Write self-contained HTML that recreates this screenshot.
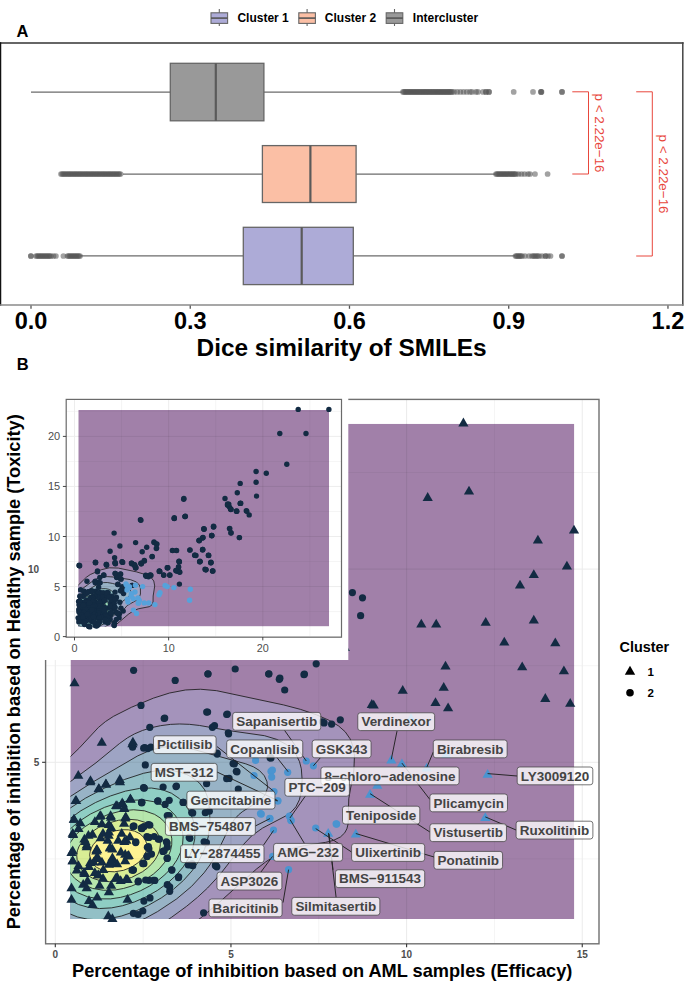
<!DOCTYPE html>
<html><head><meta charset="utf-8"><title>Figure</title>
<style>html,body{margin:0;padding:0;background:#fff;}svg{display:block;}</style>
</head><body>
<svg width="685" height="984" viewBox="0 0 685 984">
<rect width="685" height="984" fill="#fff"/>
<defs>
<clipPath id="mainclip"><rect x="70.5" y="423.8" width="503.8" height="495.2"/></clipPath>
<clipPath id="mainpanelclip"><rect x="45.6" y="399.3" width="553.8" height="544.5"/></clipPath>
<clipPath id="insetpanelclip"><rect x="66.2" y="399.3" width="275.3" height="237.8"/></clipPath>
<clipPath id="insetclip"><rect x="78.3" y="410" width="250.8" height="216.4"/></clipPath>
</defs>
<line x1="219.3" y1="9" x2="219.3" y2="26" stroke="#666" stroke-width="1.1"/>
<rect x="211" y="12.8" width="16.6" height="10.6" fill="#ADABD7" stroke="#666" stroke-width="1.1"/>
<line x1="211" y1="18.1" x2="227.6" y2="18.1" stroke="#555" stroke-width="1.6"/>
<text x="237.4" y="22.3" style="font-family:'Liberation Sans',sans-serif;font-weight:bold;font-size:12px" fill="#000">Cluster 1</text>
<line x1="307.1" y1="9" x2="307.1" y2="26" stroke="#666" stroke-width="1.1"/>
<rect x="298.8" y="12.8" width="16.6" height="10.6" fill="#FBBFA5" stroke="#666" stroke-width="1.1"/>
<line x1="298.8" y1="18.1" x2="315.4" y2="18.1" stroke="#555" stroke-width="1.6"/>
<text x="324.8" y="22.3" style="font-family:'Liberation Sans',sans-serif;font-weight:bold;font-size:12px" fill="#000">Cluster 2</text>
<line x1="394.5" y1="9" x2="394.5" y2="26" stroke="#666" stroke-width="1.1"/>
<rect x="386.2" y="12.8" width="16.6" height="10.6" fill="#999999" stroke="#666" stroke-width="1.1"/>
<line x1="386.2" y1="18.1" x2="402.8" y2="18.1" stroke="#555" stroke-width="1.6"/>
<text x="412.8" y="22.3" style="font-family:'Liberation Sans',sans-serif;font-weight:bold;font-size:12px" fill="#000">Intercluster</text>
<text x="16.4" y="36.8" style="font-family:'Liberation Sans',sans-serif;font-weight:bold;font-size:16.5px" fill="#000">A</text>
<line x1="0" y1="43.0" x2="683.6" y2="43.0" stroke="#333" stroke-width="1.5"/>
<line x1="0.6" y1="42.3" x2="0.6" y2="305.8" stroke="#111" stroke-width="1.3"/>
<line x1="682.8" y1="42.3" x2="682.8" y2="305.8" stroke="#444" stroke-width="1.5"/>
<line x1="0" y1="305.0" x2="683.5" y2="305.0" stroke="#8a8a8a" stroke-width="1.7"/>
<line x1="31" y1="92.05" x2="170.3" y2="92.05" stroke="#6b6b6b" stroke-width="1.3"/>
<line x1="263.9" y1="92.05" x2="401.8" y2="92.05" stroke="#6b6b6b" stroke-width="1.3"/>
<rect x="170.3" y="63.3" width="93.6" height="57.5" fill="#999999" stroke="#666" stroke-width="1.3"/>
<line x1="215.8" y1="63.3" x2="215.8" y2="120.8" stroke="#5a5a5a" stroke-width="2.2"/>
<line x1="123" y1="174.05" x2="262.4" y2="174.05" stroke="#6b6b6b" stroke-width="1.3"/>
<line x1="356.1" y1="174.05" x2="495.4" y2="174.05" stroke="#6b6b6b" stroke-width="1.3"/>
<rect x="262.4" y="145.6" width="93.7" height="56.9" fill="#FBBFA5" stroke="#666" stroke-width="1.3"/>
<line x1="310.4" y1="145.6" x2="310.4" y2="202.5" stroke="#5a5a5a" stroke-width="2.2"/>
<line x1="80.4" y1="255.95" x2="243.3" y2="255.95" stroke="#6b6b6b" stroke-width="1.3"/>
<line x1="353.3" y1="255.95" x2="515" y2="255.95" stroke="#6b6b6b" stroke-width="1.3"/>
<rect x="243.3" y="227.3" width="110" height="57.3" fill="#ADABD7" stroke="#666" stroke-width="1.3"/>
<line x1="301.7" y1="227.3" x2="301.7" y2="284.6" stroke="#5a5a5a" stroke-width="2.2"/>
<circle cx="403" cy="91.9" r="2.85" fill="#555" fill-opacity="0.55"/>
<circle cx="404.04" cy="91.9" r="2.85" fill="#555" fill-opacity="0.55"/>
<circle cx="405.09" cy="91.9" r="2.85" fill="#555" fill-opacity="0.55"/>
<circle cx="406.13" cy="91.9" r="2.85" fill="#555" fill-opacity="0.55"/>
<circle cx="407.17" cy="91.9" r="2.85" fill="#555" fill-opacity="0.55"/>
<circle cx="408.21" cy="91.9" r="2.85" fill="#555" fill-opacity="0.55"/>
<circle cx="409.26" cy="91.9" r="2.85" fill="#555" fill-opacity="0.55"/>
<circle cx="410.3" cy="91.9" r="2.85" fill="#555" fill-opacity="0.55"/>
<circle cx="411.34" cy="91.9" r="2.85" fill="#555" fill-opacity="0.55"/>
<circle cx="412.38" cy="91.9" r="2.85" fill="#555" fill-opacity="0.55"/>
<circle cx="413.43" cy="91.9" r="2.85" fill="#555" fill-opacity="0.55"/>
<circle cx="414.47" cy="91.9" r="2.85" fill="#555" fill-opacity="0.55"/>
<circle cx="415.51" cy="91.9" r="2.85" fill="#555" fill-opacity="0.55"/>
<circle cx="416.55" cy="91.9" r="2.85" fill="#555" fill-opacity="0.55"/>
<circle cx="417.6" cy="91.9" r="2.85" fill="#555" fill-opacity="0.55"/>
<circle cx="418.64" cy="91.9" r="2.85" fill="#555" fill-opacity="0.55"/>
<circle cx="419.68" cy="91.9" r="2.85" fill="#555" fill-opacity="0.55"/>
<circle cx="420.72" cy="91.9" r="2.85" fill="#555" fill-opacity="0.55"/>
<circle cx="421.77" cy="91.9" r="2.85" fill="#555" fill-opacity="0.55"/>
<circle cx="422.81" cy="91.9" r="2.85" fill="#555" fill-opacity="0.55"/>
<circle cx="423.85" cy="91.9" r="2.85" fill="#555" fill-opacity="0.55"/>
<circle cx="424.89" cy="91.9" r="2.85" fill="#555" fill-opacity="0.55"/>
<circle cx="425.94" cy="91.9" r="2.85" fill="#555" fill-opacity="0.55"/>
<circle cx="426.98" cy="91.9" r="2.85" fill="#555" fill-opacity="0.55"/>
<circle cx="428.02" cy="91.9" r="2.85" fill="#555" fill-opacity="0.55"/>
<circle cx="429.06" cy="91.9" r="2.85" fill="#555" fill-opacity="0.55"/>
<circle cx="430.11" cy="91.9" r="2.85" fill="#555" fill-opacity="0.55"/>
<circle cx="431.15" cy="91.9" r="2.85" fill="#555" fill-opacity="0.55"/>
<circle cx="432.19" cy="91.9" r="2.85" fill="#555" fill-opacity="0.55"/>
<circle cx="433.23" cy="91.9" r="2.85" fill="#555" fill-opacity="0.55"/>
<circle cx="434.28" cy="91.9" r="2.85" fill="#555" fill-opacity="0.55"/>
<circle cx="435.32" cy="91.9" r="2.85" fill="#555" fill-opacity="0.55"/>
<circle cx="436.36" cy="91.9" r="2.85" fill="#555" fill-opacity="0.55"/>
<circle cx="437.4" cy="91.9" r="2.85" fill="#555" fill-opacity="0.55"/>
<circle cx="438.45" cy="91.9" r="2.85" fill="#555" fill-opacity="0.55"/>
<circle cx="439.49" cy="91.9" r="2.85" fill="#555" fill-opacity="0.55"/>
<circle cx="440.53" cy="91.9" r="2.85" fill="#555" fill-opacity="0.55"/>
<circle cx="441.57" cy="91.9" r="2.85" fill="#555" fill-opacity="0.55"/>
<circle cx="442.62" cy="91.9" r="2.85" fill="#555" fill-opacity="0.55"/>
<circle cx="443.66" cy="91.9" r="2.85" fill="#555" fill-opacity="0.55"/>
<circle cx="444.7" cy="91.9" r="2.85" fill="#555" fill-opacity="0.55"/>
<circle cx="445.74" cy="91.9" r="2.85" fill="#555" fill-opacity="0.55"/>
<circle cx="446.79" cy="91.9" r="2.85" fill="#555" fill-opacity="0.55"/>
<circle cx="447.83" cy="91.9" r="2.85" fill="#555" fill-opacity="0.55"/>
<circle cx="448.87" cy="91.9" r="2.85" fill="#555" fill-opacity="0.55"/>
<circle cx="449.91" cy="91.9" r="2.85" fill="#555" fill-opacity="0.55"/>
<circle cx="450.96" cy="91.9" r="2.85" fill="#555" fill-opacity="0.55"/>
<circle cx="452" cy="91.9" r="2.85" fill="#555" fill-opacity="0.55"/>
<circle cx="454" cy="91.9" r="2.85" fill="#555" fill-opacity="0.55"/>
<circle cx="457.2" cy="91.9" r="2.85" fill="#555" fill-opacity="0.55"/>
<circle cx="460.4" cy="91.9" r="2.85" fill="#555" fill-opacity="0.55"/>
<circle cx="463.6" cy="91.9" r="2.85" fill="#555" fill-opacity="0.55"/>
<circle cx="466.8" cy="91.9" r="2.85" fill="#555" fill-opacity="0.55"/>
<circle cx="470" cy="91.9" r="2.85" fill="#555" fill-opacity="0.55"/>
<circle cx="472" cy="91.9" r="2.85" fill="#555" fill-opacity="0.55"/>
<circle cx="476" cy="91.9" r="2.85" fill="#555" fill-opacity="0.55"/>
<circle cx="478" cy="91.9" r="2.85" fill="#555" fill-opacity="0.55"/>
<circle cx="483" cy="91.9" r="2.85" fill="#555" fill-opacity="0.55"/>
<circle cx="486" cy="91.9" r="2.85" fill="#555" fill-opacity="0.55"/>
<circle cx="486" cy="91.9" r="2.85" fill="#555" fill-opacity="0.55"/>
<circle cx="489" cy="91.9" r="2.85" fill="#555" fill-opacity="0.55"/>
<circle cx="489" cy="91.9" r="2.85" fill="#555" fill-opacity="0.55"/>
<circle cx="513.7" cy="91.9" r="2.85" fill="#555" fill-opacity="0.55"/>
<circle cx="533" cy="91.9" r="2.85" fill="#555" fill-opacity="0.55"/>
<circle cx="541" cy="91.9" r="2.85" fill="#555" fill-opacity="0.55"/>
<circle cx="541" cy="91.9" r="2.85" fill="#555" fill-opacity="0.55"/>
<circle cx="541.5" cy="91.9" r="2.85" fill="#555" fill-opacity="0.55"/>
<circle cx="562" cy="91.9" r="2.85" fill="#555" fill-opacity="0.55"/>
<circle cx="562" cy="91.9" r="2.85" fill="#555" fill-opacity="0.55"/>
<circle cx="61" cy="174" r="2.85" fill="#555" fill-opacity="0.55"/>
<circle cx="62.21" cy="174" r="2.85" fill="#555" fill-opacity="0.55"/>
<circle cx="63.43" cy="174" r="2.85" fill="#555" fill-opacity="0.55"/>
<circle cx="64.64" cy="174" r="2.85" fill="#555" fill-opacity="0.55"/>
<circle cx="65.86" cy="174" r="2.85" fill="#555" fill-opacity="0.55"/>
<circle cx="67.07" cy="174" r="2.85" fill="#555" fill-opacity="0.55"/>
<circle cx="68.29" cy="174" r="2.85" fill="#555" fill-opacity="0.55"/>
<circle cx="69.5" cy="174" r="2.85" fill="#555" fill-opacity="0.55"/>
<circle cx="70.71" cy="174" r="2.85" fill="#555" fill-opacity="0.55"/>
<circle cx="71.93" cy="174" r="2.85" fill="#555" fill-opacity="0.55"/>
<circle cx="73.14" cy="174" r="2.85" fill="#555" fill-opacity="0.55"/>
<circle cx="74.36" cy="174" r="2.85" fill="#555" fill-opacity="0.55"/>
<circle cx="75.57" cy="174" r="2.85" fill="#555" fill-opacity="0.55"/>
<circle cx="76.79" cy="174" r="2.85" fill="#555" fill-opacity="0.55"/>
<circle cx="78" cy="174" r="2.85" fill="#555" fill-opacity="0.55"/>
<circle cx="79.21" cy="174" r="2.85" fill="#555" fill-opacity="0.55"/>
<circle cx="80.43" cy="174" r="2.85" fill="#555" fill-opacity="0.55"/>
<circle cx="81.64" cy="174" r="2.85" fill="#555" fill-opacity="0.55"/>
<circle cx="82.86" cy="174" r="2.85" fill="#555" fill-opacity="0.55"/>
<circle cx="84.07" cy="174" r="2.85" fill="#555" fill-opacity="0.55"/>
<circle cx="85.29" cy="174" r="2.85" fill="#555" fill-opacity="0.55"/>
<circle cx="86.5" cy="174" r="2.85" fill="#555" fill-opacity="0.55"/>
<circle cx="87.71" cy="174" r="2.85" fill="#555" fill-opacity="0.55"/>
<circle cx="88.93" cy="174" r="2.85" fill="#555" fill-opacity="0.55"/>
<circle cx="90.14" cy="174" r="2.85" fill="#555" fill-opacity="0.55"/>
<circle cx="91.36" cy="174" r="2.85" fill="#555" fill-opacity="0.55"/>
<circle cx="92.57" cy="174" r="2.85" fill="#555" fill-opacity="0.55"/>
<circle cx="93.79" cy="174" r="2.85" fill="#555" fill-opacity="0.55"/>
<circle cx="95" cy="174" r="2.85" fill="#555" fill-opacity="0.55"/>
<circle cx="96.21" cy="174" r="2.85" fill="#555" fill-opacity="0.55"/>
<circle cx="97.43" cy="174" r="2.85" fill="#555" fill-opacity="0.55"/>
<circle cx="98.64" cy="174" r="2.85" fill="#555" fill-opacity="0.55"/>
<circle cx="99.86" cy="174" r="2.85" fill="#555" fill-opacity="0.55"/>
<circle cx="101.07" cy="174" r="2.85" fill="#555" fill-opacity="0.55"/>
<circle cx="102.29" cy="174" r="2.85" fill="#555" fill-opacity="0.55"/>
<circle cx="103.5" cy="174" r="2.85" fill="#555" fill-opacity="0.55"/>
<circle cx="104.71" cy="174" r="2.85" fill="#555" fill-opacity="0.55"/>
<circle cx="105.93" cy="174" r="2.85" fill="#555" fill-opacity="0.55"/>
<circle cx="107.14" cy="174" r="2.85" fill="#555" fill-opacity="0.55"/>
<circle cx="108.36" cy="174" r="2.85" fill="#555" fill-opacity="0.55"/>
<circle cx="109.57" cy="174" r="2.85" fill="#555" fill-opacity="0.55"/>
<circle cx="110.79" cy="174" r="2.85" fill="#555" fill-opacity="0.55"/>
<circle cx="112" cy="174" r="2.85" fill="#555" fill-opacity="0.55"/>
<circle cx="113.21" cy="174" r="2.85" fill="#555" fill-opacity="0.55"/>
<circle cx="114.43" cy="174" r="2.85" fill="#555" fill-opacity="0.55"/>
<circle cx="115.64" cy="174" r="2.85" fill="#555" fill-opacity="0.55"/>
<circle cx="116.86" cy="174" r="2.85" fill="#555" fill-opacity="0.55"/>
<circle cx="118.07" cy="174" r="2.85" fill="#555" fill-opacity="0.55"/>
<circle cx="119.29" cy="174" r="2.85" fill="#555" fill-opacity="0.55"/>
<circle cx="120.5" cy="174" r="2.85" fill="#555" fill-opacity="0.55"/>
<circle cx="496" cy="174" r="2.85" fill="#555" fill-opacity="0.55"/>
<circle cx="497.05" cy="174" r="2.85" fill="#555" fill-opacity="0.55"/>
<circle cx="498.11" cy="174" r="2.85" fill="#555" fill-opacity="0.55"/>
<circle cx="499.16" cy="174" r="2.85" fill="#555" fill-opacity="0.55"/>
<circle cx="500.21" cy="174" r="2.85" fill="#555" fill-opacity="0.55"/>
<circle cx="501.26" cy="174" r="2.85" fill="#555" fill-opacity="0.55"/>
<circle cx="502.32" cy="174" r="2.85" fill="#555" fill-opacity="0.55"/>
<circle cx="503.37" cy="174" r="2.85" fill="#555" fill-opacity="0.55"/>
<circle cx="504.42" cy="174" r="2.85" fill="#555" fill-opacity="0.55"/>
<circle cx="505.47" cy="174" r="2.85" fill="#555" fill-opacity="0.55"/>
<circle cx="506.53" cy="174" r="2.85" fill="#555" fill-opacity="0.55"/>
<circle cx="507.58" cy="174" r="2.85" fill="#555" fill-opacity="0.55"/>
<circle cx="508.63" cy="174" r="2.85" fill="#555" fill-opacity="0.55"/>
<circle cx="509.68" cy="174" r="2.85" fill="#555" fill-opacity="0.55"/>
<circle cx="510.74" cy="174" r="2.85" fill="#555" fill-opacity="0.55"/>
<circle cx="511.79" cy="174" r="2.85" fill="#555" fill-opacity="0.55"/>
<circle cx="512.84" cy="174" r="2.85" fill="#555" fill-opacity="0.55"/>
<circle cx="513.89" cy="174" r="2.85" fill="#555" fill-opacity="0.55"/>
<circle cx="514.95" cy="174" r="2.85" fill="#555" fill-opacity="0.55"/>
<circle cx="516" cy="174" r="2.85" fill="#555" fill-opacity="0.55"/>
<circle cx="518.5" cy="174" r="2.85" fill="#555" fill-opacity="0.55"/>
<circle cx="521.5" cy="174" r="2.85" fill="#555" fill-opacity="0.55"/>
<circle cx="524.5" cy="174" r="2.85" fill="#555" fill-opacity="0.55"/>
<circle cx="528" cy="174" r="2.85" fill="#555" fill-opacity="0.55"/>
<circle cx="530" cy="174" r="2.85" fill="#555" fill-opacity="0.55"/>
<circle cx="535" cy="174" r="2.85" fill="#555" fill-opacity="0.55"/>
<circle cx="547.6" cy="174" r="2.85" fill="#555" fill-opacity="0.55"/>
<circle cx="30.9" cy="256" r="2.85" fill="#555" fill-opacity="0.55"/>
<circle cx="30.9" cy="256" r="2.85" fill="#555" fill-opacity="0.55"/>
<circle cx="36" cy="256" r="2.85" fill="#555" fill-opacity="0.55"/>
<circle cx="37.15" cy="256" r="2.85" fill="#555" fill-opacity="0.55"/>
<circle cx="38.31" cy="256" r="2.85" fill="#555" fill-opacity="0.55"/>
<circle cx="39.46" cy="256" r="2.85" fill="#555" fill-opacity="0.55"/>
<circle cx="40.62" cy="256" r="2.85" fill="#555" fill-opacity="0.55"/>
<circle cx="41.77" cy="256" r="2.85" fill="#555" fill-opacity="0.55"/>
<circle cx="42.92" cy="256" r="2.85" fill="#555" fill-opacity="0.55"/>
<circle cx="44.08" cy="256" r="2.85" fill="#555" fill-opacity="0.55"/>
<circle cx="45.23" cy="256" r="2.85" fill="#555" fill-opacity="0.55"/>
<circle cx="46.38" cy="256" r="2.85" fill="#555" fill-opacity="0.55"/>
<circle cx="47.54" cy="256" r="2.85" fill="#555" fill-opacity="0.55"/>
<circle cx="48.69" cy="256" r="2.85" fill="#555" fill-opacity="0.55"/>
<circle cx="49.85" cy="256" r="2.85" fill="#555" fill-opacity="0.55"/>
<circle cx="51" cy="256" r="2.85" fill="#555" fill-opacity="0.55"/>
<circle cx="53.5" cy="256" r="2.85" fill="#555" fill-opacity="0.55"/>
<circle cx="55.9" cy="256" r="2.85" fill="#555" fill-opacity="0.55"/>
<circle cx="63.4" cy="256" r="2.85" fill="#555" fill-opacity="0.55"/>
<circle cx="67.5" cy="256" r="2.85" fill="#555" fill-opacity="0.55"/>
<circle cx="68.64" cy="256" r="2.85" fill="#555" fill-opacity="0.55"/>
<circle cx="69.77" cy="256" r="2.85" fill="#555" fill-opacity="0.55"/>
<circle cx="70.91" cy="256" r="2.85" fill="#555" fill-opacity="0.55"/>
<circle cx="72.05" cy="256" r="2.85" fill="#555" fill-opacity="0.55"/>
<circle cx="73.18" cy="256" r="2.85" fill="#555" fill-opacity="0.55"/>
<circle cx="74.32" cy="256" r="2.85" fill="#555" fill-opacity="0.55"/>
<circle cx="75.45" cy="256" r="2.85" fill="#555" fill-opacity="0.55"/>
<circle cx="76.59" cy="256" r="2.85" fill="#555" fill-opacity="0.55"/>
<circle cx="77.73" cy="256" r="2.85" fill="#555" fill-opacity="0.55"/>
<circle cx="78.86" cy="256" r="2.85" fill="#555" fill-opacity="0.55"/>
<circle cx="80" cy="256" r="2.85" fill="#555" fill-opacity="0.55"/>
<circle cx="515.5" cy="256" r="2.85" fill="#555" fill-opacity="0.55"/>
<circle cx="516.58" cy="256" r="2.85" fill="#555" fill-opacity="0.55"/>
<circle cx="517.67" cy="256" r="2.85" fill="#555" fill-opacity="0.55"/>
<circle cx="518.75" cy="256" r="2.85" fill="#555" fill-opacity="0.55"/>
<circle cx="519.83" cy="256" r="2.85" fill="#555" fill-opacity="0.55"/>
<circle cx="520.92" cy="256" r="2.85" fill="#555" fill-opacity="0.55"/>
<circle cx="522" cy="256" r="2.85" fill="#555" fill-opacity="0.55"/>
<circle cx="525" cy="256" r="2.85" fill="#555" fill-opacity="0.55"/>
<circle cx="529" cy="256" r="2.85" fill="#555" fill-opacity="0.55"/>
<circle cx="532" cy="256" r="2.85" fill="#555" fill-opacity="0.55"/>
<circle cx="533.4" cy="256" r="2.85" fill="#555" fill-opacity="0.55"/>
<circle cx="534.8" cy="256" r="2.85" fill="#555" fill-opacity="0.55"/>
<circle cx="536.2" cy="256" r="2.85" fill="#555" fill-opacity="0.55"/>
<circle cx="537.6" cy="256" r="2.85" fill="#555" fill-opacity="0.55"/>
<circle cx="539" cy="256" r="2.85" fill="#555" fill-opacity="0.55"/>
<circle cx="542" cy="256" r="2.85" fill="#555" fill-opacity="0.55"/>
<circle cx="545.5" cy="256" r="2.85" fill="#555" fill-opacity="0.55"/>
<circle cx="545.5" cy="256" r="2.85" fill="#555" fill-opacity="0.55"/>
<circle cx="548" cy="256" r="2.85" fill="#555" fill-opacity="0.55"/>
<circle cx="550.5" cy="256" r="2.85" fill="#555" fill-opacity="0.55"/>
<circle cx="562" cy="256" r="2.85" fill="#555" fill-opacity="0.55"/>
<circle cx="562" cy="256" r="2.85" fill="#555" fill-opacity="0.55"/>
<polyline points="572.3,91.8 588.5,91.8 588.5,174 572.3,174" fill="none" stroke="#E8473C" stroke-width="1"/>
<polyline points="636.2,91.8 652.3,91.8 652.3,256 636.2,256" fill="none" stroke="#E8473C" stroke-width="1"/>
<text transform="translate(595.2,93.6) rotate(90)" style="font-family:'Liberation Sans',sans-serif;font-size:13.4px" fill="#E8473C">p &lt; 2.22e−16</text>
<text transform="translate(659.2,134.6) rotate(90)" style="font-family:'Liberation Sans',sans-serif;font-size:13.4px" fill="#E8473C">p &lt; 2.22e−16</text>
<line x1="31" y1="305.5" x2="31" y2="308.8" stroke="#555" stroke-width="1.3"/>
<text x="31" y="329.3" text-anchor="middle" style="font-family:'Liberation Sans',sans-serif;font-weight:bold;font-size:23.5px" fill="#000">0.0</text>
<line x1="190.24" y1="305.5" x2="190.24" y2="308.8" stroke="#555" stroke-width="1.3"/>
<text x="190.24" y="329.3" text-anchor="middle" style="font-family:'Liberation Sans',sans-serif;font-weight:bold;font-size:23.5px" fill="#000">0.3</text>
<line x1="349.48" y1="305.5" x2="349.48" y2="308.8" stroke="#555" stroke-width="1.3"/>
<text x="349.48" y="329.3" text-anchor="middle" style="font-family:'Liberation Sans',sans-serif;font-weight:bold;font-size:23.5px" fill="#000">0.6</text>
<line x1="508.72" y1="305.5" x2="508.72" y2="308.8" stroke="#555" stroke-width="1.3"/>
<text x="508.72" y="329.3" text-anchor="middle" style="font-family:'Liberation Sans',sans-serif;font-weight:bold;font-size:23.5px" fill="#000">0.9</text>
<line x1="667.96" y1="305.5" x2="667.96" y2="308.8" stroke="#555" stroke-width="1.3"/>
<text x="667.96" y="329.3" text-anchor="middle" style="font-family:'Liberation Sans',sans-serif;font-weight:bold;font-size:23.5px" fill="#000">1.2</text>
<text x="341.6" y="355.6" text-anchor="middle" style="font-family:'Liberation Sans',sans-serif;font-weight:bold;font-size:24.4px" fill="#000">Dice similarity of SMILEs</text>
<text x="16.8" y="369.6" style="font-family:'Liberation Sans',sans-serif;font-weight:bold;font-size:16.5px" fill="#000">B</text>
<rect x="45.6" y="399.3" width="553.8" height="544.5" fill="#fff"/>
<line x1="55.3" y1="399.3" x2="55.3" y2="943.8" stroke="#EBEBEB" stroke-width="1.0"/>
<line x1="143.12" y1="399.3" x2="143.12" y2="943.8" stroke="#EBEBEB" stroke-width="0.55"/>
<line x1="230.95" y1="399.3" x2="230.95" y2="943.8" stroke="#EBEBEB" stroke-width="1.0"/>
<line x1="318.78" y1="399.3" x2="318.78" y2="943.8" stroke="#EBEBEB" stroke-width="0.55"/>
<line x1="406.6" y1="399.3" x2="406.6" y2="943.8" stroke="#EBEBEB" stroke-width="1.0"/>
<line x1="494.43" y1="399.3" x2="494.43" y2="943.8" stroke="#EBEBEB" stroke-width="0.55"/>
<line x1="582.25" y1="399.3" x2="582.25" y2="943.8" stroke="#EBEBEB" stroke-width="1.0"/>
<line x1="45.6" y1="858.9" x2="599.4" y2="858.9" stroke="#EBEBEB" stroke-width="0.55"/>
<line x1="45.6" y1="762.3" x2="599.4" y2="762.3" stroke="#EBEBEB" stroke-width="1.0"/>
<line x1="45.6" y1="665.7" x2="599.4" y2="665.7" stroke="#EBEBEB" stroke-width="0.55"/>
<line x1="45.6" y1="569.1" x2="599.4" y2="569.1" stroke="#EBEBEB" stroke-width="1.0"/>
<line x1="45.6" y1="472.5" x2="599.4" y2="472.5" stroke="#EBEBEB" stroke-width="0.55"/>
<g clip-path="url(#mainclip)">
<rect x="70.5" y="423.8" width="503.8" height="495.2" fill="#A180A9"/>
<path d="M196.5,920.82 94.5,921.54 68.5,921.52 67.78,920.8 67.72,815.8 68.5,758.5 79.52,747.8 98.5,727.35 105.5,721.55 113.5,716.34 131.5,707.26 153.5,698.11 169.5,693.02 185.5,689.98 200.5,689.24 216.5,690.66 283.5,704.92 300.5,709.39 316.52,714.8 329.5,720.5 338.5,725.89 345.21,731.8 350.08,738.8 353.1,746.8 354.46,755.8 353.88,769.8 348.75,798.8 348.12,823.8 346.89,828.8 344.74,832.8 340.5,836.92 333.5,840.35 325.5,842.38 304.5,845.56 294.52,847.8 283.5,851.69 273.5,856.81 265.5,862.04 256.5,869.01 218.5,903.04 200.5,918.08 196.5,920.82Z" fill="#A493BB" fill-rule="evenodd" stroke="none"/>
<path d="M165.5,920.82 94.5,921.29 68.5,921.23 68.07,920.8 67.8,837.8 68.5,782.99 96.01,762.8 119.5,743.53 127.52,737.8 134.5,733.88 142.5,730.46 151.5,727.65 160.5,725.69 170.5,724.39 179.5,723.97 189.5,724.33 199.5,725.47 228.5,730.54 264.5,735.69 276.5,739.3 285.5,744 291.38,748.8 296.18,754.8 299.5,761.66 301.33,768.8 302.12,779.8 301.24,791.8 299.38,799.8 295.92,806.8 291.5,811.77 286.5,815.53 262.5,828.11 251.71,835.8 242.5,845.49 219.75,874.8 207.5,888.03 197.5,897.31 186.5,906.36 171.5,917.31 166.34,920.8 165.5,920.82Z" fill="#9EA4C4" fill-rule="evenodd" stroke="none"/>
<path d="M139.5,920.81 68.35,920.8 67.92,851.8 68.5,797.66 92.5,782.26 137.5,755.99 150.5,750.1 162.5,747.19 169.5,746.6 177.5,746.77 193.5,749.41 245.71,763.8 253.5,766.84 259.5,770.57 264.36,775.8 267.03,781.8 267.48,787.8 265.59,793.8 263.54,796.8 260.5,799.85 242.26,811.8 238.5,814.91 234.5,819.27 229.15,827.8 215.54,855.8 209.97,864.8 204.07,872.8 191.5,886.43 176.5,899.01 157.5,911.61 145.5,918.19 139.5,920.81Z" fill="#98B3C6" fill-rule="evenodd" stroke="none"/>
<path d="M108.5,918.81 97.5,919.74 87.5,919.18 77.5,916.98 68.5,913.33 68.05,857.8 68.5,809.17 85.5,798.17 104.5,788.1 124.5,779.49 143.5,773.29 157.5,770.53 169.5,770.23 180.5,772.25 186.5,774.46 191.5,777.01 199.27,782.8 204.7,789.8 207.79,797.8 209.67,809.8 209.9,823.8 208.22,836.8 204.68,848.8 198.91,860.8 192.09,870.8 183.5,880.4 173.5,889.24 161.5,897.78 148.5,905.24 134.5,911.59 121.5,916 108.5,918.81Z" fill="#92C0C6" fill-rule="evenodd" stroke="none"/>
<path d="M111.5,907.86 99.5,908.55 88.5,907.39 78.5,904.52 68.5,899.45 68.5,819.63 80.8,810.8 95.5,802.54 110.5,795.94 125.5,791.11 139.5,788.45 151.5,788.04 162.5,789.77 171.5,793.28 179.5,798.69 185.35,804.8 190.39,812.8 193.42,820.8 194.96,829.8 194.76,838.8 192.6,848.8 188.87,857.8 183.3,866.8 176.5,874.91 167.95,882.8 157.5,890.37 146.5,896.64 134.5,901.92 122.5,905.72 111.5,907.86Z" fill="#8FCEC4" fill-rule="evenodd" stroke="none"/>
<path d="M110.5,898.87 98.5,898.84 87.5,896.75 77.5,892.66 68.5,886.39 68.5,830.52 78.46,821.8 90.5,814.04 104.5,807.36 118.5,802.69 131.5,800.24 143.5,799.93 154.5,801.83 163.92,805.8 170.5,810.5 175.5,815.83 179.75,822.8 182.17,829.8 183.1,836.8 182.55,844.8 180.34,852.8 177,859.8 172.26,866.8 165.9,873.8 158.5,880.1 149.5,886.09 140.5,890.76 130.5,894.69 120.5,897.4 110.5,898.87Z" fill="#9ADBBC" fill-rule="evenodd" stroke="none"/>
<path d="M115.5,889.92 103.5,890.29 92.5,888.41 82.5,884.23 74.5,878.16 70.82,873.8 68.5,869.91 68.5,845.53 69.36,843.8 75.81,834.8 84.5,826.98 95.5,820.03 108.5,814.35 121.5,810.89 133.5,809.75 144.5,810.84 154.5,814.33 160.02,817.8 164.5,821.97 168.01,826.8 170.64,832.8 171.81,838.8 171.73,844.8 170.46,850.8 168.02,856.8 164.34,862.8 159.25,868.8 153.5,873.97 146.64,878.8 139.5,882.72 131.5,886.08 123.5,888.46 115.5,889.92Z" fill="#B6E6AC" fill-rule="evenodd" stroke="none"/>
<path d="M119.5,880.88 109.5,881.71 100.5,880.76 92.5,878.2 85.31,873.8 80.5,868.63 77.3,861.8 76.69,854.8 77.4,850.8 78.85,846.8 83.28,839.8 90.5,832.81 98.5,827.54 108.5,823.03 118.5,820.29 128.5,819.25 137.5,820.02 145.5,822.51 149.67,824.8 153.5,827.87 156.77,831.8 158.86,835.8 160.03,839.8 160.39,844.8 159.66,849.8 157.88,854.8 155,859.8 151.82,863.8 147.7,867.8 142.5,871.74 131.5,877.47 119.5,880.88Z" fill="#D9EE95" fill-rule="evenodd" stroke="none"/>
<path d="M114.5,871.8 107.5,871.45 101.5,869.88 96.5,867.22 92.84,863.8 90.54,859.8 89.64,854.8 90.52,849.8 93.1,844.8 97.5,839.9 102.5,836.19 108.5,833.1 115.5,830.8 122.5,829.74 128.5,829.85 134.5,831.11 140.03,833.8 144.5,838.21 146.81,843.8 147.03,846.8 146.5,850.49 143.59,856.8 138.5,862.45 131.5,867.16 123.5,870.32 114.5,871.8Z" fill="#FEF392" fill-rule="evenodd" stroke="none"/>
<path d="M196.5,920.82 94.5,921.54 68.5,921.52 67.78,920.8 67.72,815.8 68.5,758.5 79.52,747.8 98.5,727.35 105.5,721.55 113.5,716.34 131.5,707.26 153.5,698.11 169.5,693.02 185.5,689.98 200.5,689.24 216.5,690.66 283.5,704.92 300.5,709.39 316.52,714.8 329.5,720.5 338.5,725.89 345.21,731.8 350.08,738.8 353.1,746.8 354.46,755.8 353.88,769.8 348.75,798.8 348.12,823.8 346.89,828.8 344.74,832.8 340.5,836.92 333.5,840.35 325.5,842.38 304.5,845.56 294.52,847.8 283.5,851.69 273.5,856.81 265.5,862.04 256.5,869.01 218.5,903.04 200.5,918.08 196.5,920.82Z" fill="none" stroke="#1b1b1b" stroke-width="0.85"/>
<path d="M165.5,920.82 94.5,921.29 68.5,921.23 68.07,920.8 67.8,837.8 68.5,782.99 96.01,762.8 119.5,743.53 127.52,737.8 134.5,733.88 142.5,730.46 151.5,727.65 160.5,725.69 170.5,724.39 179.5,723.97 189.5,724.33 199.5,725.47 228.5,730.54 264.5,735.69 276.5,739.3 285.5,744 291.38,748.8 296.18,754.8 299.5,761.66 301.33,768.8 302.12,779.8 301.24,791.8 299.38,799.8 295.92,806.8 291.5,811.77 286.5,815.53 262.5,828.11 251.71,835.8 242.5,845.49 219.75,874.8 207.5,888.03 197.5,897.31 186.5,906.36 171.5,917.31 166.34,920.8 165.5,920.82Z" fill="none" stroke="#1b1b1b" stroke-width="0.85"/>
<path d="M139.5,920.81 68.35,920.8 67.92,851.8 68.5,797.66 92.5,782.26 137.5,755.99 150.5,750.1 162.5,747.19 169.5,746.6 177.5,746.77 193.5,749.41 245.71,763.8 253.5,766.84 259.5,770.57 264.36,775.8 267.03,781.8 267.48,787.8 265.59,793.8 263.54,796.8 260.5,799.85 242.26,811.8 238.5,814.91 234.5,819.27 229.15,827.8 215.54,855.8 209.97,864.8 204.07,872.8 191.5,886.43 176.5,899.01 157.5,911.61 145.5,918.19 139.5,920.81Z" fill="none" stroke="#1b1b1b" stroke-width="0.85"/>
<path d="M108.5,918.81 97.5,919.74 87.5,919.18 77.5,916.98 68.5,913.33 68.05,857.8 68.5,809.17 85.5,798.17 104.5,788.1 124.5,779.49 143.5,773.29 157.5,770.53 169.5,770.23 180.5,772.25 186.5,774.46 191.5,777.01 199.27,782.8 204.7,789.8 207.79,797.8 209.67,809.8 209.9,823.8 208.22,836.8 204.68,848.8 198.91,860.8 192.09,870.8 183.5,880.4 173.5,889.24 161.5,897.78 148.5,905.24 134.5,911.59 121.5,916 108.5,918.81Z" fill="none" stroke="#1b1b1b" stroke-width="0.85"/>
<path d="M111.5,907.86 99.5,908.55 88.5,907.39 78.5,904.52 68.5,899.45 68.5,819.63 80.8,810.8 95.5,802.54 110.5,795.94 125.5,791.11 139.5,788.45 151.5,788.04 162.5,789.77 171.5,793.28 179.5,798.69 185.35,804.8 190.39,812.8 193.42,820.8 194.96,829.8 194.76,838.8 192.6,848.8 188.87,857.8 183.3,866.8 176.5,874.91 167.95,882.8 157.5,890.37 146.5,896.64 134.5,901.92 122.5,905.72 111.5,907.86Z" fill="none" stroke="#1b1b1b" stroke-width="0.85"/>
<path d="M110.5,898.87 98.5,898.84 87.5,896.75 77.5,892.66 68.5,886.39 68.5,830.52 78.46,821.8 90.5,814.04 104.5,807.36 118.5,802.69 131.5,800.24 143.5,799.93 154.5,801.83 163.92,805.8 170.5,810.5 175.5,815.83 179.75,822.8 182.17,829.8 183.1,836.8 182.55,844.8 180.34,852.8 177,859.8 172.26,866.8 165.9,873.8 158.5,880.1 149.5,886.09 140.5,890.76 130.5,894.69 120.5,897.4 110.5,898.87Z" fill="none" stroke="#1b1b1b" stroke-width="0.85"/>
<path d="M115.5,889.92 103.5,890.29 92.5,888.41 82.5,884.23 74.5,878.16 70.82,873.8 68.5,869.91 68.5,845.53 69.36,843.8 75.81,834.8 84.5,826.98 95.5,820.03 108.5,814.35 121.5,810.89 133.5,809.75 144.5,810.84 154.5,814.33 160.02,817.8 164.5,821.97 168.01,826.8 170.64,832.8 171.81,838.8 171.73,844.8 170.46,850.8 168.02,856.8 164.34,862.8 159.25,868.8 153.5,873.97 146.64,878.8 139.5,882.72 131.5,886.08 123.5,888.46 115.5,889.92Z" fill="none" stroke="#1b1b1b" stroke-width="0.85"/>
<path d="M119.5,880.88 109.5,881.71 100.5,880.76 92.5,878.2 85.31,873.8 80.5,868.63 77.3,861.8 76.69,854.8 77.4,850.8 78.85,846.8 83.28,839.8 90.5,832.81 98.5,827.54 108.5,823.03 118.5,820.29 128.5,819.25 137.5,820.02 145.5,822.51 149.67,824.8 153.5,827.87 156.77,831.8 158.86,835.8 160.03,839.8 160.39,844.8 159.66,849.8 157.88,854.8 155,859.8 151.82,863.8 147.7,867.8 142.5,871.74 131.5,877.47 119.5,880.88Z" fill="none" stroke="#1b1b1b" stroke-width="0.85"/>
<path d="M114.5,871.8 107.5,871.45 101.5,869.88 96.5,867.22 92.84,863.8 90.54,859.8 89.64,854.8 90.52,849.8 93.1,844.8 97.5,839.9 102.5,836.19 108.5,833.1 115.5,830.8 122.5,829.74 128.5,829.85 134.5,831.11 140.03,833.8 144.5,838.21 146.81,843.8 147.03,846.8 146.5,850.49 143.59,856.8 138.5,862.45 131.5,867.16 123.5,870.32 114.5,871.8Z" fill="none" stroke="#1b1b1b" stroke-width="0.85"/>
</g>
<g clip-path="url(#mainclip)">
<line x1="55.3" y1="399.3" x2="55.3" y2="943.8" stroke="#000" stroke-opacity="0.065" stroke-width="1.1"/>
<line x1="143.12" y1="399.3" x2="143.12" y2="943.8" stroke="#000" stroke-opacity="0.065" stroke-width="0.6"/>
<line x1="230.95" y1="399.3" x2="230.95" y2="943.8" stroke="#000" stroke-opacity="0.065" stroke-width="1.1"/>
<line x1="318.78" y1="399.3" x2="318.78" y2="943.8" stroke="#000" stroke-opacity="0.065" stroke-width="0.6"/>
<line x1="406.6" y1="399.3" x2="406.6" y2="943.8" stroke="#000" stroke-opacity="0.065" stroke-width="1.1"/>
<line x1="494.43" y1="399.3" x2="494.43" y2="943.8" stroke="#000" stroke-opacity="0.065" stroke-width="0.6"/>
<line x1="582.25" y1="399.3" x2="582.25" y2="943.8" stroke="#000" stroke-opacity="0.065" stroke-width="1.1"/>
<line x1="45.6" y1="858.9" x2="599.4" y2="858.9" stroke="#000" stroke-opacity="0.065" stroke-width="0.6"/>
<line x1="45.6" y1="762.3" x2="599.4" y2="762.3" stroke="#000" stroke-opacity="0.065" stroke-width="1.1"/>
<line x1="45.6" y1="665.7" x2="599.4" y2="665.7" stroke="#000" stroke-opacity="0.065" stroke-width="0.6"/>
<line x1="45.6" y1="569.1" x2="599.4" y2="569.1" stroke="#000" stroke-opacity="0.065" stroke-width="1.1"/>
<line x1="45.6" y1="472.5" x2="599.4" y2="472.5" stroke="#000" stroke-opacity="0.065" stroke-width="0.6"/>
</g>
<g clip-path="url(#mainpanelclip)">
<circle cx="133.6" cy="670.3" r="3.6" fill="#132B43"/>
<circle cx="175.2" cy="680.4" r="3.6" fill="#132B43"/>
<circle cx="208" cy="673.8" r="3.6" fill="#132B43"/>
<circle cx="235.2" cy="669" r="3.6" fill="#132B43"/>
<circle cx="268.9" cy="673.8" r="3.6" fill="#132B43"/>
<circle cx="279.9" cy="678.2" r="3.6" fill="#132B43"/>
<circle cx="284.7" cy="690" r="3.6" fill="#132B43"/>
<circle cx="304" cy="674.7" r="3.6" fill="#132B43"/>
<circle cx="316.2" cy="663.8" r="3.6" fill="#132B43"/>
<circle cx="207.9" cy="674" r="3.6" fill="#132B43"/>
<circle cx="268.7" cy="674" r="3.6" fill="#132B43"/>
<circle cx="279.3" cy="679.3" r="3.6" fill="#132B43"/>
<circle cx="304.4" cy="674" r="3.6" fill="#132B43"/>
<circle cx="141" cy="705.4" r="3.6" fill="#132B43"/>
<circle cx="164.2" cy="718.5" r="3.6" fill="#132B43"/>
<circle cx="207.6" cy="712" r="3.6" fill="#132B43"/>
<circle cx="227.3" cy="714.1" r="3.6" fill="#132B43"/>
<circle cx="149.8" cy="727.3" r="3.6" fill="#132B43"/>
<circle cx="212.4" cy="727.3" r="3.6" fill="#132B43"/>
<circle cx="228.6" cy="733.8" r="3.6" fill="#132B43"/>
<circle cx="226.7" cy="714.5" r="3.6" fill="#132B43"/>
<circle cx="214.5" cy="725.7" r="3.6" fill="#132B43"/>
<circle cx="228.3" cy="732.8" r="3.6" fill="#132B43"/>
<circle cx="324.1" cy="722.9" r="3.6" fill="#132B43"/>
<circle cx="331.6" cy="724.2" r="3.6" fill="#132B43"/>
<circle cx="340.3" cy="719.8" r="3.6" fill="#132B43"/>
<circle cx="322.4" cy="721.8" r="3.6" fill="#132B43"/>
<circle cx="352.4" cy="592.6" r="3.6" fill="#132B43"/>
<circle cx="362.5" cy="597.8" r="3.6" fill="#132B43"/>
<circle cx="360.6" cy="615.7" r="3.6" fill="#132B43"/>
<circle cx="132.6" cy="747.2" r="3.6" fill="#132B43"/>
<circle cx="143.7" cy="748.2" r="3.6" fill="#132B43"/>
<circle cx="147.8" cy="748.6" r="3.6" fill="#132B43"/>
<circle cx="150.8" cy="747.2" r="3.6" fill="#132B43"/>
<circle cx="145.3" cy="764.9" r="3.6" fill="#132B43"/>
<circle cx="144.8" cy="747.5" r="3.6" fill="#132B43"/>
<circle cx="144.3" cy="788" r="3.6" fill="#132B43"/>
<circle cx="163.1" cy="787" r="3.6" fill="#132B43"/>
<circle cx="176.4" cy="786" r="3.6" fill="#132B43"/>
<circle cx="141.6" cy="802.3" r="3.6" fill="#132B43"/>
<circle cx="158" cy="800.9" r="3.6" fill="#132B43"/>
<circle cx="165.1" cy="804.4" r="3.6" fill="#132B43"/>
<circle cx="169.2" cy="800.3" r="3.6" fill="#132B43"/>
<circle cx="183.5" cy="802.3" r="3.6" fill="#132B43"/>
<circle cx="191.7" cy="812.6" r="3.6" fill="#132B43"/>
<circle cx="169.2" cy="815.6" r="3.6" fill="#132B43"/>
<circle cx="143.6" cy="787.5" r="3.6" fill="#132B43"/>
<circle cx="176" cy="786.6" r="3.6" fill="#132B43"/>
<circle cx="141.9" cy="802.4" r="3.6" fill="#132B43"/>
<circle cx="157.7" cy="801.2" r="3.6" fill="#132B43"/>
<circle cx="183" cy="802.4" r="3.6" fill="#132B43"/>
<circle cx="192.7" cy="812.9" r="3.6" fill="#132B43"/>
<circle cx="209.3" cy="811.2" r="3.6" fill="#132B43"/>
<circle cx="167.3" cy="815.5" r="3.6" fill="#132B43"/>
<circle cx="149.8" cy="825.2" r="3.6" fill="#132B43"/>
<circle cx="134" cy="826" r="3.6" fill="#132B43"/>
<circle cx="141.9" cy="828.7" r="3.6" fill="#132B43"/>
<circle cx="148.9" cy="837.4" r="3.6" fill="#132B43"/>
<circle cx="154.2" cy="836.5" r="3.6" fill="#132B43"/>
<circle cx="159.4" cy="839.2" r="3.6" fill="#132B43"/>
<circle cx="166.4" cy="841.8" r="3.6" fill="#132B43"/>
<circle cx="167.3" cy="847.1" r="3.6" fill="#132B43"/>
<circle cx="162.9" cy="851.4" r="3.6" fill="#132B43"/>
<circle cx="148.9" cy="848.8" r="3.6" fill="#132B43"/>
<circle cx="151.5" cy="854.1" r="3.6" fill="#132B43"/>
<circle cx="167.3" cy="858.4" r="3.6" fill="#132B43"/>
<circle cx="142.8" cy="863.7" r="3.6" fill="#132B43"/>
<circle cx="133.1" cy="869.8" r="3.6" fill="#132B43"/>
<circle cx="171.7" cy="869.8" r="3.6" fill="#132B43"/>
<circle cx="178.7" cy="876.8" r="3.6" fill="#132B43"/>
<circle cx="148.9" cy="880.3" r="3.6" fill="#132B43"/>
<circle cx="153.3" cy="880.3" r="3.6" fill="#132B43"/>
<circle cx="138.4" cy="881.2" r="3.6" fill="#132B43"/>
<circle cx="167.3" cy="884.7" r="3.6" fill="#132B43"/>
<circle cx="190" cy="864.6" r="3.6" fill="#132B43"/>
<circle cx="189.2" cy="837.4" r="3.6" fill="#132B43"/>
<circle cx="204.1" cy="841.8" r="3.6" fill="#132B43"/>
<circle cx="215.4" cy="865.4" r="3.6" fill="#132B43"/>
<circle cx="216.8" cy="866.8" r="3.6" fill="#132B43"/>
<circle cx="203.6" cy="912.8" r="3.6" fill="#132B43"/>
<circle cx="189.9" cy="838.3" r="3.6" fill="#132B43"/>
<circle cx="206.3" cy="842.7" r="3.6" fill="#132B43"/>
<circle cx="171.9" cy="870.1" r="3.6" fill="#132B43"/>
<circle cx="178.5" cy="877.7" r="3.6" fill="#132B43"/>
<circle cx="169.7" cy="886.9" r="3.6" fill="#132B43"/>
<circle cx="188.3" cy="865" r="3.6" fill="#132B43"/>
<circle cx="192.7" cy="865.7" r="3.6" fill="#132B43"/>
<circle cx="167.1" cy="858" r="3.6" fill="#132B43"/>
<circle cx="158.3" cy="839.2" r="3.6" fill="#132B43"/>
<circle cx="167.1" cy="843.1" r="3.6" fill="#132B43"/>
<circle cx="164.2" cy="850.8" r="3.6" fill="#132B43"/>
<circle cx="154.8" cy="880.4" r="3.6" fill="#132B43"/>
<circle cx="169.7" cy="891.3" r="3.6" fill="#132B43"/>
<circle cx="150" cy="897.9" r="3.6" fill="#132B43"/>
<circle cx="143.9" cy="788.2" r="3.6" fill="#132B43"/>
<circle cx="141.6" cy="802.8" r="3.6" fill="#132B43"/>
<circle cx="133.4" cy="826.1" r="3.6" fill="#132B43"/>
<circle cx="141.6" cy="827.9" r="3.6" fill="#132B43"/>
<circle cx="143.9" cy="826.7" r="3.6" fill="#132B43"/>
<circle cx="135.8" cy="841.9" r="3.6" fill="#132B43"/>
<circle cx="146.9" cy="836.7" r="3.6" fill="#132B43"/>
<circle cx="143.9" cy="863.7" r="3.6" fill="#132B43"/>
<circle cx="133.4" cy="870.1" r="3.6" fill="#132B43"/>
<circle cx="138.1" cy="881.8" r="3.6" fill="#132B43"/>
<circle cx="145.7" cy="880" r="3.6" fill="#132B43"/>
<circle cx="143.9" cy="901.1" r="3.6" fill="#132B43"/>
<circle cx="133.4" cy="913.3" r="3.6" fill="#132B43"/>
<circle cx="138.1" cy="914.5" r="3.6" fill="#132B43"/>
<circle cx="142.8" cy="911" r="3.6" fill="#132B43"/>
<circle cx="146.9" cy="856.7" r="3.6" fill="#132B43"/>
<circle cx="147.4" cy="847.3" r="3.6" fill="#132B43"/>
<circle cx="217.1" cy="753" r="3.6" fill="#132B43"/>
<circle cx="233.1" cy="763.6" r="3.6" fill="#132B43"/>
<circle cx="236.3" cy="771.3" r="3.6" fill="#132B43"/>
<circle cx="226.7" cy="778.7" r="3.6" fill="#132B43"/>
<circle cx="270.1" cy="757.8" r="3.6" fill="#132B43"/>
<circle cx="271" cy="757.9" r="3.6" fill="#132B43"/>
<circle cx="234.4" cy="763.8" r="3.6" fill="#132B43"/>
<circle cx="237" cy="771.8" r="3.6" fill="#132B43"/>
<circle cx="229.1" cy="778.4" r="3.6" fill="#132B43"/>
<circle cx="238.3" cy="789" r="3.6" fill="#132B43"/>
<circle cx="217.2" cy="754.1" r="3.6" fill="#132B43"/>
<circle cx="206.6" cy="783.7" r="3.6" fill="#132B43"/>
<circle cx="205.3" cy="812.7" r="3.6" fill="#132B43"/>
<circle cx="215.9" cy="865.6" r="3.6" fill="#132B43"/>
<circle cx="206.1" cy="842.6" r="3.6" fill="#132B43"/>
<circle cx="192.2" cy="863.8" r="3.6" fill="#132B43"/>
<circle cx="164.7" cy="718" r="3.6" fill="#132B43"/>
<circle cx="206.7" cy="712.1" r="3.6" fill="#132B43"/>
<circle cx="133.1" cy="826.7" r="3.6" fill="#132B43"/>
<circle cx="141.3" cy="828.3" r="3.6" fill="#132B43"/>
<circle cx="148.4" cy="824.7" r="3.6" fill="#132B43"/>
<circle cx="135.7" cy="842.6" r="3.6" fill="#132B43"/>
<circle cx="148.4" cy="837.5" r="3.6" fill="#132B43"/>
<circle cx="148.4" cy="846.7" r="3.6" fill="#132B43"/>
<circle cx="147.4" cy="855.9" r="3.6" fill="#132B43"/>
<circle cx="143.3" cy="863" r="3.6" fill="#132B43"/>
<circle cx="132.1" cy="870.2" r="3.6" fill="#132B43"/>
<polygon points="463.4,417.6 458.3,426.4 468.5,426.4" fill="#132B43"/>
<polygon points="427.7,492.1 422.6,500.9 432.8,500.9" fill="#132B43"/>
<polygon points="469,485.8 463.9,494.6 474.1,494.6" fill="#132B43"/>
<polygon points="574,524.8 568.9,533.6 579.1,533.6" fill="#132B43"/>
<polygon points="537.9,534.7 532.8,543.5 543,543.5" fill="#132B43"/>
<polygon points="566.9,560.7 561.8,569.5 572,569.5" fill="#132B43"/>
<polygon points="533.8,569.3 528.7,578.1 538.9,578.1" fill="#132B43"/>
<polygon points="520,579.7 514.9,588.5 525.1,588.5" fill="#132B43"/>
<polygon points="421.3,618.8 416.2,627.6 426.4,627.6" fill="#132B43"/>
<polygon points="436.2,618.8 431.1,627.6 441.3,627.6" fill="#132B43"/>
<polygon points="485.7,616.9 480.6,625.7 490.8,625.7" fill="#132B43"/>
<polygon points="533.8,614.7 528.7,623.5 538.9,623.5" fill="#132B43"/>
<polygon points="504.3,636.7 499.2,645.5 509.4,645.5" fill="#132B43"/>
<polygon points="555.3,637.4 550.2,646.2 560.4,646.2" fill="#132B43"/>
<polygon points="344.8,642.1 339.7,650.9 349.9,650.9" fill="#132B43"/>
<polygon points="445.5,660.7 440.4,669.5 450.6,669.5" fill="#132B43"/>
<polygon points="522.2,661.4 517.1,670.2 527.3,670.2" fill="#132B43"/>
<polygon points="563.9,665.5 558.8,674.3 569,674.3" fill="#132B43"/>
<polygon points="402.7,684.9 397.6,693.7 407.8,693.7" fill="#132B43"/>
<polygon points="443.7,681.9 438.6,690.7 448.8,690.7" fill="#132B43"/>
<polygon points="435.5,697.2 430.4,706 440.6,706" fill="#132B43"/>
<polygon points="448.1,702.4 443,711.2 453.2,711.2" fill="#132B43"/>
<polygon points="373.7,699.8 368.6,708.6 378.8,708.6" fill="#132B43"/>
<polygon points="545.3,693.1 540.2,701.9 550.4,701.9" fill="#132B43"/>
<polygon points="570.2,697.9 565.1,706.7 575.3,706.7" fill="#132B43"/>
<polygon points="371.8,699.1 366.7,707.9 376.9,707.9" fill="#132B43"/>
<polygon points="74.5,677.5 69.4,686.3 79.6,686.3" fill="#132B43"/>
<polygon points="101.8,736.9 96.7,745.7 106.9,745.7" fill="#132B43"/>
<polygon points="132.4,738.4 127.3,747.2 137.5,747.2" fill="#132B43"/>
<polygon points="132.9,736.8 127.8,745.6 138,745.6" fill="#132B43"/>
<polygon points="78.3,770 73.2,778.8 83.4,778.8" fill="#132B43"/>
<polygon points="90.5,775.2 85.4,784 95.6,784" fill="#132B43"/>
<polygon points="119.8,774.1 114.7,782.9 124.9,782.9" fill="#132B43"/>
<polygon points="105.9,778.6 100.8,787.4 111,787.4" fill="#132B43"/>
<polygon points="98.7,783.3 93.6,792.1 103.8,792.1" fill="#132B43"/>
<polygon points="76.2,795.2 71.1,804 81.3,804" fill="#132B43"/>
<polygon points="75.6,795.2 70.5,804 80.7,804" fill="#132B43"/>
<polygon points="90.2,776.5 85.1,785.3 95.3,785.3" fill="#132B43"/>
<polygon points="99,783.5 93.9,792.3 104.1,792.3" fill="#132B43"/>
<polygon points="106,778.8 100.9,787.6 111.1,787.6" fill="#132B43"/>
<polygon points="120,776.5 114.9,785.3 125.1,785.3" fill="#132B43"/>
<polygon points="130.5,794 125.4,802.8 135.6,802.8" fill="#132B43"/>
<polygon points="117.1,800.4 112,809.2 122.2,809.2" fill="#132B43"/>
<polygon points="122.9,798.7 117.8,807.5 128,807.5" fill="#132B43"/>
<polygon points="124.1,803.3 119,812.1 129.2,812.1" fill="#132B43"/>
<polygon points="130.4,793.5 125.3,802.3 135.5,802.3" fill="#132B43"/>
<polygon points="122.2,797.6 117.1,806.4 127.3,806.4" fill="#132B43"/>
<polygon points="116.1,800.3 111,809.1 121.2,809.1" fill="#132B43"/>
<polygon points="124.3,802.7 119.2,811.5 129.4,811.5" fill="#132B43"/>
<polygon points="73.8,813.9 68.7,822.7 78.9,822.7" fill="#132B43"/>
<polygon points="80.3,817.4 75.2,826.2 85.4,826.2" fill="#132B43"/>
<polygon points="72.7,827.9 67.6,836.7 77.8,836.7" fill="#132B43"/>
<polygon points="78.5,823.2 73.4,832 83.6,832" fill="#132B43"/>
<polygon points="74.2,814 69.1,822.8 79.3,822.8" fill="#132B43"/>
<polygon points="99.7,810.9 94.6,819.7 104.8,819.7" fill="#132B43"/>
<polygon points="111,811.9 105.9,820.7 116.1,820.7" fill="#132B43"/>
<polygon points="125.3,812.6 120.2,821.4 130.4,821.4" fill="#132B43"/>
<polygon points="100.7,810.3 95.6,819.1 105.8,819.1" fill="#132B43"/>
<polygon points="110.6,810.3 105.5,819.1 115.7,819.1" fill="#132B43"/>
<polygon points="94.9,816.2 89.8,825 100,825" fill="#132B43"/>
<polygon points="101.9,818.5 96.8,827.3 107,827.3" fill="#132B43"/>
<polygon points="108.9,819.1 103.8,827.9 114,827.9" fill="#132B43"/>
<polygon points="125.8,811.5 120.7,820.3 130.9,820.3" fill="#132B43"/>
<polygon points="124.1,817.9 119,826.7 129.2,826.7" fill="#132B43"/>
<polygon points="92.5,829 87.4,837.8 97.6,837.8" fill="#132B43"/>
<polygon points="103,827.9 97.9,836.7 108.1,836.7" fill="#132B43"/>
<polygon points="108.9,826.7 103.8,835.5 114,835.5" fill="#132B43"/>
<polygon points="121.7,827.9 116.6,836.7 126.8,836.7" fill="#132B43"/>
<polygon points="84.4,833.7 79.3,842.5 89.5,842.5" fill="#132B43"/>
<polygon points="86.7,839.6 81.6,848.4 91.8,848.4" fill="#132B43"/>
<polygon points="100.7,832.5 95.6,841.3 105.8,841.3" fill="#132B43"/>
<polygon points="107.7,834.9 102.6,843.7 112.8,843.7" fill="#132B43"/>
<polygon points="118.2,834.9 113.1,843.7 123.3,843.7" fill="#132B43"/>
<polygon points="126.4,834.9 121.3,843.7 131.5,843.7" fill="#132B43"/>
<polygon points="129.9,831.4 124.8,840.2 135,840.2" fill="#132B43"/>
<polygon points="96.6,844.2 91.5,853 101.7,853" fill="#132B43"/>
<polygon points="110.1,841.9 105,850.7 115.2,850.7" fill="#132B43"/>
<polygon points="72.7,845.4 67.6,854.2 77.8,854.2" fill="#132B43"/>
<polygon points="125.2,848.9 120.1,857.7 130.3,857.7" fill="#132B43"/>
<polygon points="128.7,850.1 123.6,858.9 133.8,858.9" fill="#132B43"/>
<polygon points="112.4,852.4 107.3,861.2 117.5,861.2" fill="#132B43"/>
<polygon points="97.2,851.2 92.1,860 102.3,860" fill="#132B43"/>
<polygon points="86.7,841.5 81.6,850.3 91.8,850.3" fill="#132B43"/>
<polygon points="97.2,844.4 92.1,853.2 102.3,853.2" fill="#132B43"/>
<polygon points="110.1,842.6 105,851.4 115.2,851.4" fill="#132B43"/>
<polygon points="112.4,843.8 107.3,852.6 117.5,852.6" fill="#132B43"/>
<polygon points="71.5,847.3 66.4,856.1 76.6,856.1" fill="#132B43"/>
<polygon points="72.7,855.5 67.6,864.3 77.8,864.3" fill="#132B43"/>
<polygon points="97.2,853.2 92.1,862 102.3,862" fill="#132B43"/>
<polygon points="101.9,856.7 96.8,865.5 107,865.5" fill="#132B43"/>
<polygon points="93.7,856.7 88.6,865.5 98.8,865.5" fill="#132B43"/>
<polygon points="112.4,854.3 107.3,863.1 117.5,863.1" fill="#132B43"/>
<polygon points="117.1,858.4 112,867.2 122.2,867.2" fill="#132B43"/>
<polygon points="108.9,859 103.8,867.8 114,867.8" fill="#132B43"/>
<polygon points="127.6,850.8 122.5,859.6 132.7,859.6" fill="#132B43"/>
<polygon points="125.2,855.5 120.1,864.3 130.3,864.3" fill="#132B43"/>
<polygon points="78.5,860.2 73.4,869 83.6,869" fill="#132B43"/>
<polygon points="89,861.3 83.9,870.1 94.1,870.1" fill="#132B43"/>
<polygon points="76.8,864.8 71.7,873.6 81.9,873.6" fill="#132B43"/>
<polygon points="84.4,868.3 79.3,877.1 89.5,877.1" fill="#132B43"/>
<polygon points="94.9,867.2 89.8,876 100,876" fill="#132B43"/>
<polygon points="98.4,869.5 93.3,878.3 103.5,878.3" fill="#132B43"/>
<polygon points="103,873 97.9,881.8 108.1,881.8" fill="#132B43"/>
<polygon points="117.1,871.8 112,880.6 122.2,880.6" fill="#132B43"/>
<polygon points="120.6,875.3 115.5,884.1 125.7,884.1" fill="#132B43"/>
<polygon points="127.6,874.2 122.5,883 132.7,883" fill="#132B43"/>
<polygon points="83.2,878.9 78.1,887.7 88.3,887.7" fill="#132B43"/>
<polygon points="86.7,882.4 81.6,891.2 91.8,891.2" fill="#132B43"/>
<polygon points="99.5,880 94.4,888.8 104.6,888.8" fill="#132B43"/>
<polygon points="111.2,880 106.1,888.8 116.3,888.8" fill="#132B43"/>
<polygon points="71.5,882.4 66.4,891.2 76.6,891.2" fill="#132B43"/>
<polygon points="108.9,886.4 103.8,895.2 114,895.2" fill="#132B43"/>
<polygon points="97.2,891.7 92.1,900.5 102.3,900.5" fill="#132B43"/>
<polygon points="71.5,894 66.4,902.8 76.6,902.8" fill="#132B43"/>
<polygon points="89,895.2 83.9,904 94.1,904" fill="#132B43"/>
<polygon points="92.5,899.3 87.4,908.1 97.6,908.1" fill="#132B43"/>
<polygon points="127.6,894 122.5,902.8 132.7,902.8" fill="#132B43"/>
<polygon points="108.3,910.4 103.2,919.2 113.4,919.2" fill="#132B43"/>
<polygon points="112.4,913.3 107.3,922.1 117.5,922.1" fill="#132B43"/>
<polygon points="73.1,829.1 68,837.9 78.2,837.9" fill="#132B43"/>
<polygon points="85.4,836.1 80.3,844.9 90.5,844.9" fill="#132B43"/>
<polygon points="96.3,845.7 91.2,854.5 101.4,854.5" fill="#132B43"/>
<polygon points="108.6,829.9 103.5,838.7 113.7,838.7" fill="#132B43"/>
<polygon points="111.2,822.1 106.1,830.9 116.3,830.9" fill="#132B43"/>
<polygon points="124.4,836.1 119.3,844.9 129.5,844.9" fill="#132B43"/>
<polygon points="111.2,857.1 106.1,865.9 116.3,865.9" fill="#132B43"/>
<polygon points="90.2,857.1 85.1,865.9 95.3,865.9" fill="#132B43"/>
<polygon points="72.6,855.4 67.5,864.2 77.7,864.2" fill="#132B43"/>
<polygon points="84,866.8 78.9,875.6 89.1,875.6" fill="#132B43"/>
<polygon points="98.1,869.4 93,878.2 103.2,878.2" fill="#132B43"/>
<polygon points="115.6,872.9 110.5,881.7 120.7,881.7" fill="#132B43"/>
<polygon points="126.1,873.8 121,882.6 131.2,882.6" fill="#132B43"/>
<polygon points="87.5,875.6 82.4,884.4 92.6,884.4" fill="#132B43"/>
<polygon points="103.3,864.2 98.2,873 108.4,873" fill="#132B43"/>
<polygon points="120.9,846.6 115.8,855.4 126,855.4" fill="#132B43"/>
<polygon points="88.4,829.9 83.3,838.7 93.5,838.7" fill="#132B43"/>
<circle cx="255.6" cy="760.4" r="3.6" fill="#4A94D0"/>
<circle cx="271" cy="771.3" r="3.6" fill="#4A94D0"/>
<circle cx="271.7" cy="777.1" r="3.6" fill="#4A94D0"/>
<circle cx="254" cy="775.5" r="3.6" fill="#4A94D0"/>
<circle cx="287.7" cy="772.3" r="3.6" fill="#4A94D0"/>
<circle cx="306.3" cy="761" r="3.6" fill="#4A94D0"/>
<circle cx="313.4" cy="765.8" r="3.6" fill="#4A94D0"/>
<circle cx="272.3" cy="770.2" r="3.6" fill="#4A94D0"/>
<circle cx="277.6" cy="801" r="3.6" fill="#4A94D0"/>
<circle cx="260.5" cy="813.6" r="3.6" fill="#4A94D0"/>
<circle cx="269.7" cy="818.3" r="3.6" fill="#4A94D0"/>
<circle cx="289.4" cy="816.2" r="3.6" fill="#4A94D0"/>
<circle cx="290.7" cy="820.1" r="3.6" fill="#4A94D0"/>
<circle cx="336.7" cy="824.1" r="3.6" fill="#4A94D0"/>
<circle cx="315.7" cy="828" r="3.6" fill="#4A94D0"/>
<circle cx="274" cy="791.6" r="3.6" fill="#4A94D0"/>
<circle cx="278" cy="800.8" r="3.6" fill="#4A94D0"/>
<circle cx="270" cy="818.6" r="3.6" fill="#4A94D0"/>
<circle cx="273.5" cy="830" r="3.6" fill="#4A94D0"/>
<circle cx="272.7" cy="856.4" r="3.6" fill="#4A94D0"/>
<circle cx="288.6" cy="869.6" r="3.6" fill="#4A94D0"/>
<circle cx="261.3" cy="814.1" r="3.6" fill="#4A94D0"/>
<circle cx="291.2" cy="820.7" r="3.6" fill="#4A94D0"/>
<circle cx="336.1" cy="823.8" r="3.6" fill="#4A94D0"/>
<polygon points="391.3,754.6 386.2,763.4 396.4,763.4" fill="#4A94D0"/>
<polygon points="401.9,758.4 396.8,767.2 407,767.2" fill="#4A94D0"/>
<polygon points="377.3,779.9 372.2,788.7 382.4,788.7" fill="#4A94D0"/>
<polygon points="370.1,789 365,797.8 375.2,797.8" fill="#4A94D0"/>
<polygon points="355.8,828.8 350.7,837.6 360.9,837.6" fill="#4A94D0"/>
<polygon points="485.3,812.2 480.2,821 490.4,821" fill="#4A94D0"/>
<polygon points="487.6,768.9 482.5,777.7 492.7,777.7" fill="#4A94D0"/>
<polygon points="328.2,827.9 323.1,836.7 333.3,836.7" fill="#4A94D0"/>
<polygon points="411,713.3 405.9,722.1 416.1,722.1" fill="#4A94D0"/>
<polygon points="446,749.3 440.9,758.1 451.1,758.1" fill="#4A94D0"/>
<polygon points="426.8,762.7 421.7,771.5 431.9,771.5" fill="#4A94D0"/>
</g>
<line x1="284.5" y1="730.3" x2="306.3" y2="761" stroke="#222" stroke-width="0.95"/>
<line x1="320.3" y1="757.8" x2="313.4" y2="765.8" stroke="#222" stroke-width="0.95"/>
<line x1="276.7" y1="757.2" x2="288.2" y2="771.8" stroke="#222" stroke-width="0.95"/>
<line x1="305.7" y1="795.6" x2="289.9" y2="818" stroke="#222" stroke-width="0.95"/>
<line x1="217" y1="746.6" x2="273.5" y2="791" stroke="#222" stroke-width="0.95"/>
<line x1="217" y1="772" x2="277.5" y2="800.5" stroke="#222" stroke-width="0.95"/>
<line x1="255.3" y1="826" x2="270" y2="818.6" stroke="#222" stroke-width="0.95"/>
<line x1="263.6" y1="845" x2="273.5" y2="830.5" stroke="#222" stroke-width="0.95"/>
<line x1="260.8" y1="872.2" x2="272.5" y2="856.4" stroke="#222" stroke-width="0.95"/>
<line x1="304.4" y1="843.4" x2="290" y2="819.5" stroke="#222" stroke-width="0.95"/>
<line x1="283" y1="902.6" x2="288.6" y2="869.6" stroke="#222" stroke-width="0.95"/>
<line x1="336.1" y1="897.4" x2="328.5" y2="833" stroke="#222" stroke-width="0.95"/>
<line x1="333" y1="869.8" x2="329" y2="834" stroke="#222" stroke-width="0.95"/>
<line x1="351.6" y1="852" x2="315.7" y2="828.6" stroke="#222" stroke-width="0.95"/>
<line x1="434" y1="857" x2="355.8" y2="833.5" stroke="#222" stroke-width="0.95"/>
<line x1="429.9" y1="832" x2="370.1" y2="793.7" stroke="#222" stroke-width="0.95"/>
<line x1="429.9" y1="799.5" x2="401.9" y2="763.1" stroke="#222" stroke-width="0.95"/>
<line x1="397" y1="731.1" x2="391.3" y2="759.3" stroke="#222" stroke-width="0.95"/>
<line x1="433.3" y1="752" x2="426.8" y2="767.4" stroke="#222" stroke-width="0.95"/>
<line x1="517.2" y1="776" x2="487.6" y2="773.6" stroke="#222" stroke-width="0.95"/>
<line x1="516.1" y1="830" x2="485.3" y2="816.9" stroke="#222" stroke-width="0.95"/>
<line x1="274.6" y1="800" x2="277.6" y2="801" stroke="#222" stroke-width="0.95"/>
<rect x="232.7" y="712.4" width="88.04" height="17.8" rx="2.6" fill="#fff" fill-opacity="0.78" stroke="#3a3a3a" stroke-width="0.7"/>
<text x="236.3" y="726" style="font-family:'Liberation Sans',sans-serif;font-weight:bold;font-size:13.47px" fill="#444">Sapanisertib</text>
<rect x="357.8" y="712.8" width="76.82" height="17.8" rx="2.6" fill="#fff" fill-opacity="0.78" stroke="#3a3a3a" stroke-width="0.7"/>
<text x="361.4" y="726.4" style="font-family:'Liberation Sans',sans-serif;font-weight:bold;font-size:13.47px" fill="#444">Verdinexor</text>
<rect x="153.5" y="735.8" width="62.59" height="17.8" rx="2.6" fill="#fff" fill-opacity="0.78" stroke="#3a3a3a" stroke-width="0.7"/>
<text x="157.1" y="749.4" style="font-family:'Liberation Sans',sans-serif;font-weight:bold;font-size:13.47px" fill="#444">Pictilisib</text>
<rect x="226.7" y="740" width="76.04" height="17.8" rx="2.6" fill="#fff" fill-opacity="0.78" stroke="#3a3a3a" stroke-width="0.7"/>
<text x="230.3" y="753.6" style="font-family:'Liberation Sans',sans-serif;font-weight:bold;font-size:13.47px" fill="#444">Copanlisib</text>
<rect x="312.2" y="740" width="58.86" height="17.8" rx="2.6" fill="#fff" fill-opacity="0.78" stroke="#3a3a3a" stroke-width="0.7"/>
<text x="315.8" y="753.6" style="font-family:'Liberation Sans',sans-serif;font-weight:bold;font-size:13.47px" fill="#444">GSK343</text>
<rect x="433.3" y="740" width="73.82" height="17.8" rx="2.6" fill="#fff" fill-opacity="0.78" stroke="#3a3a3a" stroke-width="0.7"/>
<text x="436.9" y="753.6" style="font-family:'Liberation Sans',sans-serif;font-weight:bold;font-size:13.47px" fill="#444">Birabresib</text>
<rect x="151.2" y="763.4" width="65.97" height="17.8" rx="2.6" fill="#fff" fill-opacity="0.78" stroke="#3a3a3a" stroke-width="0.7"/>
<text x="154.8" y="777" style="font-family:'Liberation Sans',sans-serif;font-weight:bold;font-size:13.47px" fill="#444">MST−312</text>
<rect x="320.9" y="767" width="138.2" height="17.8" rx="2.6" fill="#fff" fill-opacity="0.78" stroke="#3a3a3a" stroke-width="0.7"/>
<text x="324.5" y="780.6" style="font-family:'Liberation Sans',sans-serif;font-weight:bold;font-size:13.47px" fill="#444">8−chloro−adenosine</text>
<rect x="517.2" y="767" width="75.61" height="17.8" rx="2.6" fill="#fff" fill-opacity="0.78" stroke="#3a3a3a" stroke-width="0.7"/>
<text x="520.8" y="780.6" style="font-family:'Liberation Sans',sans-serif;font-weight:bold;font-size:13.47px" fill="#444">LY3009120</text>
<rect x="284.9" y="778.4" width="64.48" height="17.8" rx="2.6" fill="#fff" fill-opacity="0.78" stroke="#3a3a3a" stroke-width="0.7"/>
<text x="288.5" y="792" style="font-family:'Liberation Sans',sans-serif;font-weight:bold;font-size:13.47px" fill="#444">PTC−209</text>
<rect x="186.9" y="791.2" width="88.04" height="17.8" rx="2.6" fill="#fff" fill-opacity="0.78" stroke="#3a3a3a" stroke-width="0.7"/>
<text x="190.5" y="804.8" style="font-family:'Liberation Sans',sans-serif;font-weight:bold;font-size:13.47px" fill="#444">Gemcitabine</text>
<rect x="429.9" y="794" width="77.58" height="17.8" rx="2.6" fill="#fff" fill-opacity="0.78" stroke="#3a3a3a" stroke-width="0.7"/>
<text x="433.5" y="807.6" style="font-family:'Liberation Sans',sans-serif;font-weight:bold;font-size:13.47px" fill="#444">Plicamycin</text>
<rect x="342.5" y="806.2" width="77.29" height="17.8" rx="2.6" fill="#fff" fill-opacity="0.78" stroke="#3a3a3a" stroke-width="0.7"/>
<text x="346.1" y="819.8" style="font-family:'Liberation Sans',sans-serif;font-weight:bold;font-size:13.47px" fill="#444">Teniposide</text>
<rect x="165.4" y="817.6" width="89.94" height="17.8" rx="2.6" fill="#fff" fill-opacity="0.78" stroke="#3a3a3a" stroke-width="0.7"/>
<text x="169" y="831.2" style="font-family:'Liberation Sans',sans-serif;font-weight:bold;font-size:13.47px" fill="#444">BMS−754807</text>
<rect x="429.9" y="823.8" width="76.56" height="17.8" rx="2.6" fill="#fff" fill-opacity="0.78" stroke="#3a3a3a" stroke-width="0.7"/>
<text x="433.5" y="837.4" style="font-family:'Liberation Sans',sans-serif;font-weight:bold;font-size:13.47px" fill="#444">Vistusertib</text>
<rect x="516.1" y="821.2" width="76.78" height="17.8" rx="2.6" fill="#fff" fill-opacity="0.78" stroke="#3a3a3a" stroke-width="0.7"/>
<text x="519.7" y="834.8" style="font-family:'Liberation Sans',sans-serif;font-weight:bold;font-size:13.47px" fill="#444">Ruxolitinib</text>
<rect x="180.5" y="844.8" width="83.48" height="17.8" rx="2.6" fill="#fff" fill-opacity="0.78" stroke="#3a3a3a" stroke-width="0.7"/>
<text x="184.1" y="858.4" style="font-family:'Liberation Sans',sans-serif;font-weight:bold;font-size:13.47px" fill="#444">LY−2874455</text>
<rect x="273.6" y="843.4" width="68.96" height="17.8" rx="2.6" fill="#fff" fill-opacity="0.78" stroke="#3a3a3a" stroke-width="0.7"/>
<text x="277.2" y="857" style="font-family:'Liberation Sans',sans-serif;font-weight:bold;font-size:13.47px" fill="#444">AMG−232</text>
<rect x="351.6" y="843.6" width="73.06" height="17.8" rx="2.6" fill="#fff" fill-opacity="0.78" stroke="#3a3a3a" stroke-width="0.7"/>
<text x="355.2" y="857.2" style="font-family:'Liberation Sans',sans-serif;font-weight:bold;font-size:13.47px" fill="#444">Ulixertinib</text>
<rect x="434" y="851.4" width="68.55" height="17.8" rx="2.6" fill="#fff" fill-opacity="0.78" stroke="#3a3a3a" stroke-width="0.7"/>
<text x="437.6" y="865" style="font-family:'Liberation Sans',sans-serif;font-weight:bold;font-size:13.47px" fill="#444">Ponatinib</text>
<rect x="217" y="872.2" width="64.86" height="17.8" rx="2.6" fill="#fff" fill-opacity="0.78" stroke="#3a3a3a" stroke-width="0.7"/>
<text x="220.6" y="885.8" style="font-family:'Liberation Sans',sans-serif;font-weight:bold;font-size:13.47px" fill="#444">ASP3026</text>
<rect x="335.5" y="869.8" width="89.2" height="17.8" rx="2.6" fill="#fff" fill-opacity="0.78" stroke="#3a3a3a" stroke-width="0.7"/>
<text x="339.1" y="883.4" style="font-family:'Liberation Sans',sans-serif;font-weight:bold;font-size:13.47px" fill="#444">BMS−911543</text>
<rect x="209" y="899" width="73.06" height="17.8" rx="2.6" fill="#fff" fill-opacity="0.78" stroke="#3a3a3a" stroke-width="0.7"/>
<text x="212.6" y="912.6" style="font-family:'Liberation Sans',sans-serif;font-weight:bold;font-size:13.47px" fill="#444">Baricitinib</text>
<rect x="291.8" y="897.4" width="88.04" height="17.8" rx="2.6" fill="#fff" fill-opacity="0.78" stroke="#3a3a3a" stroke-width="0.7"/>
<text x="295.4" y="911" style="font-family:'Liberation Sans',sans-serif;font-weight:bold;font-size:13.47px" fill="#444">Silmitasertib</text>
<rect x="45.6" y="399.4" width="553.4" height="544.4" fill="none" stroke="#707070" stroke-width="1.4"/>
<line x1="55.3" y1="943.8" x2="55.3" y2="947.3" stroke="#333" stroke-width="1.1"/>
<text x="55.3" y="958.2" text-anchor="middle" style="font-family:'Liberation Sans',sans-serif;font-weight:bold;font-size:10px" fill="#4D4D4D">0</text>
<line x1="230.95" y1="943.8" x2="230.95" y2="947.3" stroke="#333" stroke-width="1.1"/>
<text x="230.95" y="958.2" text-anchor="middle" style="font-family:'Liberation Sans',sans-serif;font-weight:bold;font-size:10px" fill="#4D4D4D">5</text>
<line x1="406.6" y1="943.8" x2="406.6" y2="947.3" stroke="#333" stroke-width="1.1"/>
<text x="406.6" y="958.2" text-anchor="middle" style="font-family:'Liberation Sans',sans-serif;font-weight:bold;font-size:10px" fill="#4D4D4D">10</text>
<line x1="582.25" y1="943.8" x2="582.25" y2="947.3" stroke="#333" stroke-width="1.1"/>
<text x="582.25" y="958.2" text-anchor="middle" style="font-family:'Liberation Sans',sans-serif;font-weight:bold;font-size:10px" fill="#4D4D4D">15</text>
<line x1="42.1" y1="762.3" x2="45.6" y2="762.3" stroke="#333" stroke-width="1.1"/>
<text x="39.2" y="765.9" text-anchor="end" style="font-family:'Liberation Sans',sans-serif;font-weight:bold;font-size:10px" fill="#4D4D4D">5</text>
<line x1="42.1" y1="569.1" x2="45.6" y2="569.1" stroke="#333" stroke-width="1.1"/>
<text x="39.2" y="572.7" text-anchor="end" style="font-family:'Liberation Sans',sans-serif;font-weight:bold;font-size:10px" fill="#4D4D4D">10</text>
<text x="322.2" y="976.8" text-anchor="middle" style="font-family:'Liberation Sans',sans-serif;font-weight:bold;font-size:18.2px" fill="#000">Percentage of inhibition based on AML samples (Efficacy)</text>
<text transform="translate(19.9,671.8) rotate(-90)" text-anchor="middle" style="font-family:'Liberation Sans',sans-serif;font-weight:bold;font-size:18.2px" fill="#000">Percentage of inhibition based on Healthy sample (Toxicity)</text>
<text x="619.6" y="652.4" style="font-family:'Liberation Sans',sans-serif;font-weight:bold;font-size:14.4px" fill="#000">Cluster</text>
<polygon points="624.8,674.7 635.2,674.7 630,665.8" fill="#000"/>
<text x="647.6" y="676.2" style="font-family:'Liberation Sans',sans-serif;font-weight:bold;font-size:11.5px" fill="#000">1</text>
<circle cx="630" cy="692.7" r="3.8" fill="#000"/>
<text x="647.6" y="697.0" style="font-family:'Liberation Sans',sans-serif;font-weight:bold;font-size:11.5px" fill="#000">2</text>
<rect x="40" y="388" width="308.3" height="272" fill="#fff"/>
<rect x="66.2" y="399.3" width="275.3" height="237.8" fill="#fff"/>
<line x1="74.5" y1="399.3" x2="74.5" y2="637.1" stroke="#EBEBEB" stroke-width="0.9"/>
<line x1="121.57" y1="399.3" x2="121.57" y2="637.1" stroke="#EBEBEB" stroke-width="0.5"/>
<line x1="168.65" y1="399.3" x2="168.65" y2="637.1" stroke="#EBEBEB" stroke-width="0.9"/>
<line x1="215.72" y1="399.3" x2="215.72" y2="637.1" stroke="#EBEBEB" stroke-width="0.5"/>
<line x1="262.8" y1="399.3" x2="262.8" y2="637.1" stroke="#EBEBEB" stroke-width="0.9"/>
<line x1="309.88" y1="399.3" x2="309.88" y2="637.1" stroke="#EBEBEB" stroke-width="0.5"/>
<line x1="66.2" y1="636.6" x2="341.5" y2="636.6" stroke="#EBEBEB" stroke-width="0.9"/>
<line x1="66.2" y1="611.58" x2="341.5" y2="611.58" stroke="#EBEBEB" stroke-width="0.5"/>
<line x1="66.2" y1="586.55" x2="341.5" y2="586.55" stroke="#EBEBEB" stroke-width="0.9"/>
<line x1="66.2" y1="561.52" x2="341.5" y2="561.52" stroke="#EBEBEB" stroke-width="0.5"/>
<line x1="66.2" y1="536.5" x2="341.5" y2="536.5" stroke="#EBEBEB" stroke-width="0.9"/>
<line x1="66.2" y1="511.48" x2="341.5" y2="511.48" stroke="#EBEBEB" stroke-width="0.5"/>
<line x1="66.2" y1="486.45" x2="341.5" y2="486.45" stroke="#EBEBEB" stroke-width="0.9"/>
<line x1="66.2" y1="461.43" x2="341.5" y2="461.43" stroke="#EBEBEB" stroke-width="0.5"/>
<line x1="66.2" y1="436.4" x2="341.5" y2="436.4" stroke="#EBEBEB" stroke-width="0.9"/>
<line x1="66.2" y1="411.38" x2="341.5" y2="411.38" stroke="#EBEBEB" stroke-width="0.5"/>
<g clip-path="url(#insetclip)">
<rect x="78.3" y="410" width="250.8" height="216.4" fill="#A180A9"/>
<path d="M111.3,628.06 83.3,628.74 76.3,628.69 75.61,628 75.53,601 76.3,587.07 86.3,577.3 90.3,574.52 101.3,569.74 109.3,567.82 118.3,568.08 136.3,571.83 145.3,574.55 151.3,577.81 153.78,581 154.71,586 153.15,596 153.03,602 151.91,605 149.3,606.68 138.3,608.8 133.3,610.86 128.3,614.3 114.3,626.22 111.3,628.06Z" fill="#A493BB" fill-rule="evenodd" stroke="none"/>
<path d="M103.3,628.02 84.3,628.47 76.3,628.39 75.91,628 75.62,607 76.3,593.14 94.2,580 98.3,578.15 102.3,577.13 107.3,576.62 113.3,577.03 130.3,579.6 136.48,582 139.3,585 140.39,588 140.44,594 139.04,598 136.98,600 127.3,605.46 115.3,619.11 109.3,624.14 103.3,628.02Z" fill="#9EA4C4" fill-rule="evenodd" stroke="none"/>
<path d="M96.3,628 76.22,628 75.75,611 76.3,596.91 96.3,585.04 103.3,582.63 107.3,582.53 112.3,583.4 125.72,587 129.59,589 131.33,592 130.67,595 122.3,601.6 117.31,611 113.67,616 106.3,622.46 96.3,628Z" fill="#98B3C6" fill-rule="evenodd" stroke="none"/>
<path d="M89.3,627.01 82.3,627.06 76.3,624.69 75.9,611 76.3,599.98 86.3,593.89 97.3,589.61 101.3,588.75 105.3,588.62 108.3,589.2 111.3,590.54 114.73,594 115.89,599 115.45,606 113.03,612 109.01,617 103.3,621.44 96.3,625 89.3,627.01Z" fill="#92C0C6" fill-rule="evenodd" stroke="none"/>
<path d="M90.3,624.16 86.3,624.44 82.3,623.89 79.3,622.78 76.3,620.83 76.3,602.9 83.3,597.98 92.3,594.28 99.3,593.19 105.3,594.4 108.87,597 111.3,601.03 111.92,606 110.45,611 107.3,615.39 102.3,619.47 96.3,622.51 90.3,624.16Z" fill="#8FCEC4" fill-rule="evenodd" stroke="none"/>
<path d="M93.3,621.24 89.3,621.93 85.3,621.83 81.3,620.73 78.3,618.91 76.3,616.83 76.3,606.32 81.3,601.55 89.3,597.64 96.3,596.27 102.3,597.2 105.33,599 107.74,602 108.76,606 108.01,610 105.53,614 102.3,616.96 98.3,619.38 93.3,621.24Z" fill="#9ADBBC" fill-rule="evenodd" stroke="none"/>
<path d="M93.3,619.1 87.3,619.7 84.3,619.17 81.3,617.85 79.11,616 77.84,614 77.3,612 77.67,609 80.32,605 86.3,601.01 93.3,598.98 99.3,599.35 102.3,600.74 104.54,603 105.68,606 105.5,609 104.13,612 101.41,615 97.3,617.63 93.3,619.1Z" fill="#B6E6AC" fill-rule="evenodd" stroke="none"/>
<path d="M92.3,617.15 87.3,617.35 83.3,615.96 80.64,613 80.22,611 80.58,609 83.3,605.34 88.3,602.46 93.3,601.34 98.3,601.99 100.3,603.1 101.96,605 102.62,607 102.21,610 101.07,612 98.3,614.6 92.3,617.15Z" fill="#D9EE95" fill-rule="evenodd" stroke="none"/>
<path d="M94.3,614.01 90.3,614.91 86.3,614.16 84.04,612 84.03,609 86.3,606.28 89.3,604.7 93.3,604 96.3,604.61 98.3,606.08 99.02,609 97.34,612 94.3,614.01Z" fill="#FEF392" fill-rule="evenodd" stroke="none"/>
<path d="M111.3,628.06 83.3,628.74 76.3,628.69 75.61,628 75.53,601 76.3,587.07 86.3,577.3 90.3,574.52 101.3,569.74 109.3,567.82 118.3,568.08 136.3,571.83 145.3,574.55 151.3,577.81 153.78,581 154.71,586 153.15,596 153.03,602 151.91,605 149.3,606.68 138.3,608.8 133.3,610.86 128.3,614.3 114.3,626.22 111.3,628.06Z" fill="none" stroke="#1b1b1b" stroke-width="0.8"/>
<path d="M103.3,628.02 84.3,628.47 76.3,628.39 75.91,628 75.62,607 76.3,593.14 94.2,580 98.3,578.15 102.3,577.13 107.3,576.62 113.3,577.03 130.3,579.6 136.48,582 139.3,585 140.39,588 140.44,594 139.04,598 136.98,600 127.3,605.46 115.3,619.11 109.3,624.14 103.3,628.02Z" fill="none" stroke="#1b1b1b" stroke-width="0.8"/>
<path d="M96.3,628 76.22,628 75.75,611 76.3,596.91 96.3,585.04 103.3,582.63 107.3,582.53 112.3,583.4 125.72,587 129.59,589 131.33,592 130.67,595 122.3,601.6 117.31,611 113.67,616 106.3,622.46 96.3,628Z" fill="none" stroke="#1b1b1b" stroke-width="0.8"/>
<path d="M89.3,627.01 82.3,627.06 76.3,624.69 75.9,611 76.3,599.98 86.3,593.89 97.3,589.61 101.3,588.75 105.3,588.62 108.3,589.2 111.3,590.54 114.73,594 115.89,599 115.45,606 113.03,612 109.01,617 103.3,621.44 96.3,625 89.3,627.01Z" fill="none" stroke="#1b1b1b" stroke-width="0.8"/>
<path d="M90.3,624.16 86.3,624.44 82.3,623.89 79.3,622.78 76.3,620.83 76.3,602.9 83.3,597.98 92.3,594.28 99.3,593.19 105.3,594.4 108.87,597 111.3,601.03 111.92,606 110.45,611 107.3,615.39 102.3,619.47 96.3,622.51 90.3,624.16Z" fill="none" stroke="#1b1b1b" stroke-width="0.8"/>
<path d="M93.3,621.24 89.3,621.93 85.3,621.83 81.3,620.73 78.3,618.91 76.3,616.83 76.3,606.32 81.3,601.55 89.3,597.64 96.3,596.27 102.3,597.2 105.33,599 107.74,602 108.76,606 108.01,610 105.53,614 102.3,616.96 98.3,619.38 93.3,621.24Z" fill="none" stroke="#1b1b1b" stroke-width="0.8"/>
<path d="M93.3,619.1 87.3,619.7 84.3,619.17 81.3,617.85 79.11,616 77.84,614 77.3,612 77.67,609 80.32,605 86.3,601.01 93.3,598.98 99.3,599.35 102.3,600.74 104.54,603 105.68,606 105.5,609 104.13,612 101.41,615 97.3,617.63 93.3,619.1Z" fill="none" stroke="#1b1b1b" stroke-width="0.8"/>
<path d="M92.3,617.15 87.3,617.35 83.3,615.96 80.64,613 80.22,611 80.58,609 83.3,605.34 88.3,602.46 93.3,601.34 98.3,601.99 100.3,603.1 101.96,605 102.62,607 102.21,610 101.07,612 98.3,614.6 92.3,617.15Z" fill="none" stroke="#1b1b1b" stroke-width="0.8"/>
<path d="M94.3,614.01 90.3,614.91 86.3,614.16 84.04,612 84.03,609 86.3,606.28 89.3,604.7 93.3,604 96.3,604.61 98.3,606.08 99.02,609 97.34,612 94.3,614.01Z" fill="none" stroke="#1b1b1b" stroke-width="0.8"/>
</g>
<g clip-path="url(#insetclip)">
<line x1="74.5" y1="399.3" x2="74.5" y2="637.1" stroke="#000" stroke-opacity="0.065" stroke-width="1.0"/>
<line x1="121.57" y1="399.3" x2="121.57" y2="637.1" stroke="#000" stroke-opacity="0.065" stroke-width="0.55"/>
<line x1="168.65" y1="399.3" x2="168.65" y2="637.1" stroke="#000" stroke-opacity="0.065" stroke-width="1.0"/>
<line x1="215.72" y1="399.3" x2="215.72" y2="637.1" stroke="#000" stroke-opacity="0.065" stroke-width="0.55"/>
<line x1="262.8" y1="399.3" x2="262.8" y2="637.1" stroke="#000" stroke-opacity="0.065" stroke-width="1.0"/>
<line x1="309.88" y1="399.3" x2="309.88" y2="637.1" stroke="#000" stroke-opacity="0.065" stroke-width="0.55"/>
<line x1="66.2" y1="636.6" x2="341.5" y2="636.6" stroke="#000" stroke-opacity="0.065" stroke-width="1.0"/>
<line x1="66.2" y1="611.58" x2="341.5" y2="611.58" stroke="#000" stroke-opacity="0.065" stroke-width="0.55"/>
<line x1="66.2" y1="586.55" x2="341.5" y2="586.55" stroke="#000" stroke-opacity="0.065" stroke-width="1.0"/>
<line x1="66.2" y1="561.52" x2="341.5" y2="561.52" stroke="#000" stroke-opacity="0.065" stroke-width="0.55"/>
<line x1="66.2" y1="536.5" x2="341.5" y2="536.5" stroke="#000" stroke-opacity="0.065" stroke-width="1.0"/>
<line x1="66.2" y1="511.48" x2="341.5" y2="511.48" stroke="#000" stroke-opacity="0.065" stroke-width="0.55"/>
<line x1="66.2" y1="486.45" x2="341.5" y2="486.45" stroke="#000" stroke-opacity="0.065" stroke-width="1.0"/>
<line x1="66.2" y1="461.43" x2="341.5" y2="461.43" stroke="#000" stroke-opacity="0.065" stroke-width="0.55"/>
<line x1="66.2" y1="436.4" x2="341.5" y2="436.4" stroke="#000" stroke-opacity="0.065" stroke-width="1.0"/>
<line x1="66.2" y1="411.38" x2="341.5" y2="411.38" stroke="#000" stroke-opacity="0.065" stroke-width="0.55"/>
</g>
<g clip-path="url(#insetpanelclip)">
<circle cx="298.2" cy="409.4" r="2.7" fill="#132B43"/>
<circle cx="328.9" cy="409.4" r="2.7" fill="#132B43"/>
<circle cx="279.8" cy="433.5" r="2.7" fill="#132B43"/>
<circle cx="306" cy="433.5" r="2.7" fill="#132B43"/>
<circle cx="286.8" cy="464.2" r="2.7" fill="#132B43"/>
<circle cx="256.1" cy="471.5" r="2.7" fill="#132B43"/>
<circle cx="266.3" cy="473.2" r="2.7" fill="#132B43"/>
<circle cx="256.1" cy="482.2" r="2.7" fill="#132B43"/>
<circle cx="240.2" cy="483.4" r="2.7" fill="#132B43"/>
<circle cx="237.3" cy="492.8" r="2.7" fill="#132B43"/>
<circle cx="256.5" cy="496.1" r="2.7" fill="#132B43"/>
<circle cx="225" cy="498.5" r="2.7" fill="#132B43"/>
<circle cx="183.7" cy="499.3" r="2.7" fill="#132B43"/>
<circle cx="227.5" cy="504.7" r="2.7" fill="#132B43"/>
<circle cx="229.5" cy="507.1" r="2.7" fill="#132B43"/>
<circle cx="240.2" cy="503.4" r="2.7" fill="#132B43"/>
<circle cx="230.8" cy="509.6" r="2.7" fill="#132B43"/>
<circle cx="236.5" cy="511.2" r="2.7" fill="#132B43"/>
<circle cx="246.3" cy="510.8" r="2.7" fill="#132B43"/>
<circle cx="249.2" cy="514.9" r="2.7" fill="#132B43"/>
<circle cx="140.4" cy="519.8" r="2.7" fill="#132B43"/>
<circle cx="174.3" cy="518.6" r="2.7" fill="#132B43"/>
<circle cx="185" cy="516.5" r="2.7" fill="#132B43"/>
<circle cx="227.7" cy="505.2" r="2.7" fill="#132B43"/>
<circle cx="228.8" cy="504.1" r="2.7" fill="#132B43"/>
<circle cx="230.6" cy="508.9" r="2.7" fill="#132B43"/>
<circle cx="236.5" cy="511.3" r="2.7" fill="#132B43"/>
<circle cx="240.4" cy="503.4" r="2.7" fill="#132B43"/>
<circle cx="246.8" cy="511.3" r="2.7" fill="#132B43"/>
<circle cx="204.1" cy="529.3" r="2.7" fill="#132B43"/>
<circle cx="213.5" cy="527.1" r="2.7" fill="#132B43"/>
<circle cx="211.8" cy="535.8" r="2.7" fill="#132B43"/>
<circle cx="203" cy="537.4" r="2.7" fill="#132B43"/>
<circle cx="199.3" cy="540.2" r="2.7" fill="#132B43"/>
<circle cx="229.5" cy="528.6" r="2.7" fill="#132B43"/>
<circle cx="231" cy="533" r="2.7" fill="#132B43"/>
<circle cx="239.4" cy="537.6" r="2.7" fill="#132B43"/>
<circle cx="202.6" cy="550.1" r="2.7" fill="#132B43"/>
<circle cx="208.7" cy="555.5" r="2.7" fill="#132B43"/>
<circle cx="200" cy="561.7" r="2.7" fill="#132B43"/>
<circle cx="210.9" cy="562.8" r="2.7" fill="#132B43"/>
<circle cx="205.9" cy="569.8" r="2.7" fill="#132B43"/>
<circle cx="212.9" cy="570.9" r="2.7" fill="#132B43"/>
<circle cx="196" cy="555.5" r="2.7" fill="#132B43"/>
<circle cx="140.9" cy="520.2" r="2.7" fill="#132B43"/>
<circle cx="174.2" cy="518.4" r="2.7" fill="#132B43"/>
<circle cx="185" cy="516.6" r="2.7" fill="#132B43"/>
<circle cx="114.1" cy="533.1" r="2.7" fill="#132B43"/>
<circle cx="203.9" cy="528.9" r="2.7" fill="#132B43"/>
<circle cx="213.7" cy="526.8" r="2.7" fill="#132B43"/>
<circle cx="211.8" cy="535.5" r="2.7" fill="#132B43"/>
<circle cx="202.6" cy="538.1" r="2.7" fill="#132B43"/>
<circle cx="199.2" cy="540.7" r="2.7" fill="#132B43"/>
<circle cx="229.7" cy="528.4" r="2.7" fill="#132B43"/>
<circle cx="231" cy="532.8" r="2.7" fill="#132B43"/>
<circle cx="239.4" cy="537.6" r="2.7" fill="#132B43"/>
<circle cx="227.6" cy="503.9" r="2.7" fill="#132B43"/>
<circle cx="231" cy="509.2" r="2.7" fill="#132B43"/>
<circle cx="236.8" cy="511.3" r="2.7" fill="#132B43"/>
<circle cx="240.7" cy="503.2" r="2.7" fill="#132B43"/>
<circle cx="135.6" cy="542.6" r="2.7" fill="#132B43"/>
<circle cx="119.9" cy="546" r="2.7" fill="#132B43"/>
<circle cx="110.1" cy="551.2" r="2.7" fill="#132B43"/>
<circle cx="154" cy="542" r="2.7" fill="#132B43"/>
<circle cx="156.6" cy="544.1" r="2.7" fill="#132B43"/>
<circle cx="156.6" cy="548.1" r="2.7" fill="#132B43"/>
<circle cx="146.7" cy="547.3" r="2.7" fill="#132B43"/>
<circle cx="142.2" cy="551.8" r="2.7" fill="#132B43"/>
<circle cx="172.4" cy="550.4" r="2.7" fill="#132B43"/>
<circle cx="176.4" cy="550.4" r="2.7" fill="#132B43"/>
<circle cx="190" cy="549.9" r="2.7" fill="#132B43"/>
<circle cx="202.6" cy="549.4" r="2.7" fill="#132B43"/>
<circle cx="194.7" cy="555.2" r="2.7" fill="#132B43"/>
<circle cx="208.4" cy="555.2" r="2.7" fill="#132B43"/>
<circle cx="114.6" cy="557.8" r="2.7" fill="#132B43"/>
<circle cx="115.1" cy="562.5" r="2.7" fill="#132B43"/>
<circle cx="122" cy="561.7" r="2.7" fill="#132B43"/>
<circle cx="95.4" cy="562.3" r="2.7" fill="#132B43"/>
<circle cx="106.2" cy="564.4" r="2.7" fill="#132B43"/>
<circle cx="79.1" cy="565.2" r="2.7" fill="#132B43"/>
<circle cx="152.2" cy="556.5" r="2.7" fill="#132B43"/>
<circle cx="144.3" cy="560.4" r="2.7" fill="#132B43"/>
<circle cx="140.9" cy="563.1" r="2.7" fill="#132B43"/>
<circle cx="131.7" cy="563.1" r="2.7" fill="#132B43"/>
<circle cx="134.8" cy="565.7" r="2.7" fill="#132B43"/>
<circle cx="135.6" cy="567.8" r="2.7" fill="#132B43"/>
<circle cx="179" cy="561.2" r="2.7" fill="#132B43"/>
<circle cx="178.5" cy="567" r="2.7" fill="#132B43"/>
<circle cx="167.2" cy="567.8" r="2.7" fill="#132B43"/>
<circle cx="200" cy="561.2" r="2.7" fill="#132B43"/>
<circle cx="211" cy="562.3" r="2.7" fill="#132B43"/>
<circle cx="205.8" cy="569.6" r="2.7" fill="#132B43"/>
<circle cx="212.6" cy="570.9" r="2.7" fill="#132B43"/>
<circle cx="175.8" cy="570.4" r="2.7" fill="#132B43"/>
<circle cx="179.5" cy="571.7" r="2.7" fill="#132B43"/>
<circle cx="159.3" cy="570.9" r="2.7" fill="#132B43"/>
<circle cx="163.7" cy="574.9" r="2.7" fill="#132B43"/>
<circle cx="169.8" cy="574.9" r="2.7" fill="#132B43"/>
<circle cx="146.1" cy="575.7" r="2.7" fill="#132B43"/>
<circle cx="150.6" cy="574.9" r="2.7" fill="#132B43"/>
<circle cx="97.5" cy="570.9" r="2.7" fill="#132B43"/>
<circle cx="79.3" cy="565.7" r="2.7" fill="#132B43"/>
<circle cx="95.6" cy="562.5" r="2.7" fill="#132B43"/>
<circle cx="106.5" cy="564.5" r="2.7" fill="#132B43"/>
<circle cx="115" cy="563.1" r="2.7" fill="#132B43"/>
<circle cx="122.2" cy="562" r="2.7" fill="#132B43"/>
<circle cx="131.4" cy="563.1" r="2.7" fill="#132B43"/>
<circle cx="135.5" cy="567.8" r="2.7" fill="#132B43"/>
<circle cx="141.6" cy="563.1" r="2.7" fill="#132B43"/>
<circle cx="145.7" cy="575.3" r="2.7" fill="#132B43"/>
<circle cx="149.8" cy="575.3" r="2.7" fill="#132B43"/>
<circle cx="159.6" cy="571.2" r="2.7" fill="#132B43"/>
<circle cx="163.7" cy="575.3" r="2.7" fill="#132B43"/>
<circle cx="167.8" cy="567.8" r="2.7" fill="#132B43"/>
<circle cx="169.8" cy="575.3" r="2.7" fill="#132B43"/>
<circle cx="177.4" cy="571.2" r="2.7" fill="#132B43"/>
<circle cx="179.4" cy="562" r="2.7" fill="#132B43"/>
<circle cx="179.4" cy="584.1" r="2.7" fill="#132B43"/>
<circle cx="199.9" cy="561.6" r="2.7" fill="#132B43"/>
<circle cx="205" cy="569.2" r="2.7" fill="#132B43"/>
<circle cx="114" cy="625" r="2.7" fill="#132B43"/>
<circle cx="88.9" cy="626.4" r="2.7" fill="#132B43"/>
<circle cx="123.2" cy="611.1" r="2.7" fill="#132B43"/>
<circle cx="89.3" cy="591.6" r="2.7" fill="#132B43"/>
<circle cx="95.6" cy="591.29" r="2.7" fill="#132B43"/>
<circle cx="100.14" cy="592.46" r="2.7" fill="#132B43"/>
<circle cx="103.23" cy="593.03" r="2.7" fill="#132B43"/>
<circle cx="108.15" cy="592.73" r="2.7" fill="#132B43"/>
<circle cx="83.28" cy="596.36" r="2.7" fill="#132B43"/>
<circle cx="89.7" cy="599.31" r="2.7" fill="#132B43"/>
<circle cx="93.5" cy="596.89" r="2.7" fill="#132B43"/>
<circle cx="100.51" cy="599.79" r="2.7" fill="#132B43"/>
<circle cx="105.31" cy="597.59" r="2.7" fill="#132B43"/>
<circle cx="111.91" cy="596.19" r="2.7" fill="#132B43"/>
<circle cx="116.43" cy="597.16" r="2.7" fill="#132B43"/>
<circle cx="78.58" cy="601.47" r="2.7" fill="#132B43"/>
<circle cx="84.23" cy="604.26" r="2.7" fill="#132B43"/>
<circle cx="88.72" cy="603.33" r="2.7" fill="#132B43"/>
<circle cx="95.56" cy="602.49" r="2.7" fill="#132B43"/>
<circle cx="100.19" cy="601.25" r="2.7" fill="#132B43"/>
<circle cx="103.24" cy="601.82" r="2.7" fill="#132B43"/>
<circle cx="110.72" cy="602.71" r="2.7" fill="#132B43"/>
<circle cx="114.26" cy="603.34" r="2.7" fill="#132B43"/>
<circle cx="119.81" cy="602.2" r="2.7" fill="#132B43"/>
<circle cx="81.18" cy="608.8" r="2.7" fill="#132B43"/>
<circle cx="83.98" cy="608.3" r="2.7" fill="#132B43"/>
<circle cx="90.1" cy="609.5" r="2.7" fill="#132B43"/>
<circle cx="95.92" cy="607.15" r="2.7" fill="#132B43"/>
<circle cx="101.92" cy="606.47" r="2.7" fill="#132B43"/>
<circle cx="104.67" cy="609.03" r="2.7" fill="#132B43"/>
<circle cx="108.61" cy="607.96" r="2.7" fill="#132B43"/>
<circle cx="113.16" cy="608.67" r="2.7" fill="#132B43"/>
<circle cx="121.06" cy="608.29" r="2.7" fill="#132B43"/>
<circle cx="81.5" cy="612.25" r="2.7" fill="#132B43"/>
<circle cx="85.78" cy="613.38" r="2.7" fill="#132B43"/>
<circle cx="90.32" cy="612.82" r="2.7" fill="#132B43"/>
<circle cx="96.36" cy="614.78" r="2.7" fill="#132B43"/>
<circle cx="99.9" cy="613.66" r="2.7" fill="#132B43"/>
<circle cx="103.24" cy="613.81" r="2.7" fill="#132B43"/>
<circle cx="110.59" cy="614.97" r="2.7" fill="#132B43"/>
<circle cx="116.29" cy="612.14" r="2.7" fill="#132B43"/>
<circle cx="119.54" cy="613.67" r="2.7" fill="#132B43"/>
<circle cx="78.09" cy="617.85" r="2.7" fill="#132B43"/>
<circle cx="83.67" cy="616.47" r="2.7" fill="#132B43"/>
<circle cx="88.24" cy="619.07" r="2.7" fill="#132B43"/>
<circle cx="93.52" cy="616.99" r="2.7" fill="#132B43"/>
<circle cx="99.56" cy="619.49" r="2.7" fill="#132B43"/>
<circle cx="103.32" cy="617.8" r="2.7" fill="#132B43"/>
<circle cx="110.2" cy="619.53" r="2.7" fill="#132B43"/>
<circle cx="116.28" cy="619.46" r="2.7" fill="#132B43"/>
<circle cx="119.11" cy="617.66" r="2.7" fill="#132B43"/>
<circle cx="84.44" cy="624.54" r="2.7" fill="#132B43"/>
<circle cx="91.83" cy="621.6" r="2.7" fill="#132B43"/>
<circle cx="93.7" cy="621.93" r="2.7" fill="#132B43"/>
<circle cx="98.93" cy="622.94" r="2.7" fill="#132B43"/>
<circle cx="105.36" cy="622.05" r="2.7" fill="#132B43"/>
<circle cx="108.02" cy="622.68" r="2.7" fill="#132B43"/>
<circle cx="114.48" cy="623.27" r="2.7" fill="#132B43"/>
<circle cx="95.48" cy="562.72" r="2.7" fill="#132B43"/>
<circle cx="106.63" cy="565.33" r="2.7" fill="#132B43"/>
<circle cx="115.42" cy="563.62" r="2.7" fill="#132B43"/>
<circle cx="122.71" cy="562.38" r="2.7" fill="#132B43"/>
<circle cx="131.75" cy="563.62" r="2.7" fill="#132B43"/>
<circle cx="134.69" cy="564.76" r="2.7" fill="#132B43"/>
<circle cx="135.98" cy="567.82" r="2.7" fill="#132B43"/>
<circle cx="141.15" cy="563.86" r="2.7" fill="#132B43"/>
<circle cx="144.42" cy="561.03" r="2.7" fill="#132B43"/>
<circle cx="115.4" cy="563.68" r="2.7" fill="#132B43"/>
<circle cx="131.69" cy="563.68" r="2.7" fill="#132B43"/>
<circle cx="134.53" cy="565.05" r="2.7" fill="#132B43"/>
<circle cx="141.26" cy="563.68" r="2.7" fill="#132B43"/>
<circle cx="97.47" cy="571.81" r="2.7" fill="#132B43"/>
<circle cx="103.69" cy="575.2" r="2.7" fill="#132B43"/>
<circle cx="115.32" cy="573.52" r="2.7" fill="#132B43"/>
<circle cx="120.6" cy="574.06" r="2.7" fill="#132B43"/>
<circle cx="99.83" cy="577.48" r="2.7" fill="#132B43"/>
<circle cx="116.6" cy="577.48" r="2.7" fill="#132B43"/>
<circle cx="120.95" cy="579.17" r="2.7" fill="#132B43"/>
<circle cx="120.44" cy="574.17" r="2.7" fill="#132B43"/>
<circle cx="117.17" cy="577.07" r="2.7" fill="#132B43"/>
<circle cx="120.86" cy="578.91" r="2.7" fill="#132B43"/>
<circle cx="146.54" cy="576.34" r="2.7" fill="#132B43"/>
<circle cx="148.55" cy="576.68" r="2.7" fill="#132B43"/>
<circle cx="150.88" cy="575.54" r="2.7" fill="#132B43"/>
<circle cx="146.08" cy="576.06" r="2.7" fill="#132B43"/>
<circle cx="154.12" cy="542.59" r="2.7" fill="#132B43"/>
<circle cx="156.83" cy="543.93" r="2.7" fill="#132B43"/>
<circle cx="156.32" cy="548.57" r="2.7" fill="#132B43"/>
<circle cx="95.22" cy="582.64" r="2.7" fill="#132B43"/>
<circle cx="98.19" cy="582.9" r="2.7" fill="#132B43"/>
<circle cx="99.29" cy="583" r="2.7" fill="#132B43"/>
<circle cx="100.09" cy="582.64" r="2.7" fill="#132B43"/>
<circle cx="98.62" cy="587.22" r="2.7" fill="#132B43"/>
<circle cx="98.49" cy="582.72" r="2.7" fill="#132B43"/>
<circle cx="98.35" cy="593.21" r="2.7" fill="#132B43"/>
<circle cx="103.39" cy="592.95" r="2.7" fill="#132B43"/>
<circle cx="106.96" cy="592.69" r="2.7" fill="#132B43"/>
<circle cx="97.63" cy="596.91" r="2.7" fill="#132B43"/>
<circle cx="102.02" cy="596.55" r="2.7" fill="#132B43"/>
<circle cx="103.93" cy="597.46" r="2.7" fill="#132B43"/>
<circle cx="105.03" cy="596.39" r="2.7" fill="#132B43"/>
<circle cx="108.86" cy="596.91" r="2.7" fill="#132B43"/>
<circle cx="111.06" cy="599.58" r="2.7" fill="#132B43"/>
<circle cx="105.03" cy="600.36" r="2.7" fill="#132B43"/>
<circle cx="98.16" cy="593.08" r="2.7" fill="#132B43"/>
<circle cx="106.85" cy="592.85" r="2.7" fill="#132B43"/>
<circle cx="97.71" cy="596.94" r="2.7" fill="#132B43"/>
<circle cx="101.94" cy="596.63" r="2.7" fill="#132B43"/>
<circle cx="108.72" cy="596.94" r="2.7" fill="#132B43"/>
<circle cx="111.32" cy="599.66" r="2.7" fill="#132B43"/>
<circle cx="115.77" cy="599.22" r="2.7" fill="#132B43"/>
<circle cx="104.52" cy="600.33" r="2.7" fill="#132B43"/>
<circle cx="99.83" cy="602.84" r="2.7" fill="#132B43"/>
<circle cx="95.59" cy="603.05" r="2.7" fill="#132B43"/>
<circle cx="97.71" cy="603.75" r="2.7" fill="#132B43"/>
<circle cx="99.59" cy="606.01" r="2.7" fill="#132B43"/>
<circle cx="101.01" cy="605.77" r="2.7" fill="#132B43"/>
<circle cx="102.4" cy="606.47" r="2.7" fill="#132B43"/>
<circle cx="104.28" cy="607.15" r="2.7" fill="#132B43"/>
<circle cx="104.52" cy="608.52" r="2.7" fill="#132B43"/>
<circle cx="103.34" cy="609.63" r="2.7" fill="#132B43"/>
<circle cx="99.59" cy="608.96" r="2.7" fill="#132B43"/>
<circle cx="100.28" cy="610.33" r="2.7" fill="#132B43"/>
<circle cx="104.52" cy="611.45" r="2.7" fill="#132B43"/>
<circle cx="97.95" cy="612.82" r="2.7" fill="#132B43"/>
<circle cx="95.35" cy="614.4" r="2.7" fill="#132B43"/>
<circle cx="105.7" cy="614.4" r="2.7" fill="#132B43"/>
<circle cx="107.57" cy="616.21" r="2.7" fill="#132B43"/>
<circle cx="99.59" cy="617.12" r="2.7" fill="#132B43"/>
<circle cx="100.76" cy="617.12" r="2.7" fill="#132B43"/>
<circle cx="96.77" cy="617.35" r="2.7" fill="#132B43"/>
<circle cx="104.52" cy="618.26" r="2.7" fill="#132B43"/>
<circle cx="110.6" cy="613.05" r="2.7" fill="#132B43"/>
<circle cx="110.39" cy="606.01" r="2.7" fill="#132B43"/>
<circle cx="114.38" cy="607.15" r="2.7" fill="#132B43"/>
<circle cx="117.41" cy="613.26" r="2.7" fill="#132B43"/>
<circle cx="117.78" cy="613.62" r="2.7" fill="#132B43"/>
<circle cx="114.25" cy="625.54" r="2.7" fill="#132B43"/>
<circle cx="110.57" cy="606.24" r="2.7" fill="#132B43"/>
<circle cx="114.97" cy="607.38" r="2.7" fill="#132B43"/>
<circle cx="105.75" cy="614.48" r="2.7" fill="#132B43"/>
<circle cx="107.52" cy="616.45" r="2.7" fill="#132B43"/>
<circle cx="105.16" cy="618.83" r="2.7" fill="#132B43"/>
<circle cx="110.14" cy="613.16" r="2.7" fill="#132B43"/>
<circle cx="111.32" cy="613.34" r="2.7" fill="#132B43"/>
<circle cx="104.46" cy="611.34" r="2.7" fill="#132B43"/>
<circle cx="102.1" cy="606.47" r="2.7" fill="#132B43"/>
<circle cx="104.46" cy="607.48" r="2.7" fill="#132B43"/>
<circle cx="103.69" cy="609.48" r="2.7" fill="#132B43"/>
<circle cx="101.17" cy="617.14" r="2.7" fill="#132B43"/>
<circle cx="105.16" cy="619.97" r="2.7" fill="#132B43"/>
<circle cx="99.88" cy="621.68" r="2.7" fill="#132B43"/>
<circle cx="98.25" cy="593.26" r="2.7" fill="#132B43"/>
<circle cx="97.63" cy="597.04" r="2.7" fill="#132B43"/>
<circle cx="95.43" cy="603.08" r="2.7" fill="#132B43"/>
<circle cx="97.63" cy="603.54" r="2.7" fill="#132B43"/>
<circle cx="98.25" cy="603.23" r="2.7" fill="#132B43"/>
<circle cx="96.07" cy="607.17" r="2.7" fill="#132B43"/>
<circle cx="99.05" cy="605.82" r="2.7" fill="#132B43"/>
<circle cx="98.25" cy="612.82" r="2.7" fill="#132B43"/>
<circle cx="95.43" cy="614.48" r="2.7" fill="#132B43"/>
<circle cx="96.69" cy="617.51" r="2.7" fill="#132B43"/>
<circle cx="98.73" cy="617.04" r="2.7" fill="#132B43"/>
<circle cx="98.25" cy="622.51" r="2.7" fill="#132B43"/>
<circle cx="95.43" cy="625.67" r="2.7" fill="#132B43"/>
<circle cx="96.69" cy="625.98" r="2.7" fill="#132B43"/>
<circle cx="97.95" cy="625.07" r="2.7" fill="#132B43"/>
<circle cx="99.05" cy="611.01" r="2.7" fill="#132B43"/>
<circle cx="99.18" cy="608.57" r="2.7" fill="#132B43"/>
<circle cx="117.86" cy="584.14" r="2.7" fill="#132B43"/>
<circle cx="122.15" cy="586.89" r="2.7" fill="#132B43"/>
<circle cx="123.01" cy="588.88" r="2.7" fill="#132B43"/>
<circle cx="120.44" cy="590.8" r="2.7" fill="#132B43"/>
<circle cx="132.07" cy="585.38" r="2.7" fill="#132B43"/>
<circle cx="132.31" cy="585.41" r="2.7" fill="#132B43"/>
<circle cx="122.5" cy="586.94" r="2.7" fill="#132B43"/>
<circle cx="123.2" cy="589.01" r="2.7" fill="#132B43"/>
<circle cx="121.08" cy="590.72" r="2.7" fill="#132B43"/>
<circle cx="123.54" cy="593.47" r="2.7" fill="#132B43"/>
<circle cx="117.89" cy="584.43" r="2.7" fill="#132B43"/>
<circle cx="115.05" cy="592.09" r="2.7" fill="#132B43"/>
<circle cx="114.7" cy="599.61" r="2.7" fill="#132B43"/>
<circle cx="117.54" cy="613.31" r="2.7" fill="#132B43"/>
<circle cx="114.92" cy="607.35" r="2.7" fill="#132B43"/>
<circle cx="111.19" cy="612.84" r="2.7" fill="#132B43"/>
<circle cx="103.82" cy="575.07" r="2.7" fill="#132B43"/>
<circle cx="115.08" cy="573.55" r="2.7" fill="#132B43"/>
<circle cx="95.35" cy="603.23" r="2.7" fill="#132B43"/>
<circle cx="97.55" cy="603.65" r="2.7" fill="#132B43"/>
<circle cx="99.45" cy="602.72" r="2.7" fill="#132B43"/>
<circle cx="96.05" cy="607.35" r="2.7" fill="#132B43"/>
<circle cx="99.45" cy="606.03" r="2.7" fill="#132B43"/>
<circle cx="99.45" cy="608.41" r="2.7" fill="#132B43"/>
<circle cx="99.18" cy="610.8" r="2.7" fill="#132B43"/>
<circle cx="98.08" cy="612.64" r="2.7" fill="#132B43"/>
<circle cx="95.08" cy="614.5" r="2.7" fill="#132B43"/>
<circle cx="183.87" cy="498.47" r="2.7" fill="#132B43"/>
<circle cx="174.3" cy="517.77" r="2.7" fill="#132B43"/>
<circle cx="185.37" cy="516.14" r="2.7" fill="#132B43"/>
<circle cx="213.51" cy="526.24" r="2.7" fill="#132B43"/>
<circle cx="203.84" cy="528.81" r="2.7" fill="#132B43"/>
<circle cx="211.61" cy="535.54" r="2.7" fill="#132B43"/>
<circle cx="202.74" cy="537.77" r="2.7" fill="#132B43"/>
<circle cx="199.04" cy="540.46" r="2.7" fill="#132B43"/>
<circle cx="172.59" cy="550.59" r="2.7" fill="#132B43"/>
<circle cx="176.58" cy="550.59" r="2.7" fill="#132B43"/>
<circle cx="189.85" cy="550.1" r="2.7" fill="#132B43"/>
<circle cx="202.74" cy="549.53" r="2.7" fill="#132B43"/>
<circle cx="194.83" cy="555.23" r="2.7" fill="#132B43"/>
<circle cx="208.5" cy="555.41" r="2.7" fill="#132B43"/>
<circle cx="152.09" cy="556.63" r="2.7" fill="#132B43"/>
<circle cx="179.08" cy="561.45" r="2.7" fill="#132B43"/>
<circle cx="199.63" cy="561.63" r="2.7" fill="#132B43"/>
<circle cx="210.81" cy="562.69" r="2.7" fill="#132B43"/>
<circle cx="167.6" cy="567.72" r="2.7" fill="#132B43"/>
<circle cx="178.59" cy="566.94" r="2.7" fill="#132B43"/>
<circle cx="176.4" cy="570.9" r="2.7" fill="#132B43"/>
<circle cx="179.77" cy="572.25" r="2.7" fill="#132B43"/>
<circle cx="159.83" cy="571.58" r="2.7" fill="#132B43"/>
<circle cx="205.82" cy="569.84" r="2.7" fill="#132B43"/>
<circle cx="212.5" cy="571.08" r="2.7" fill="#132B43"/>
<circle cx="159.32" cy="571.4" r="2.7" fill="#132B43"/>
<circle cx="79.65" cy="565.8" r="2.7" fill="#132B43"/>
<circle cx="86.96" cy="581.19" r="2.7" fill="#132B43"/>
<circle cx="95.16" cy="581.58" r="2.7" fill="#132B43"/>
<circle cx="95.3" cy="581.16" r="2.7" fill="#132B43"/>
<circle cx="80.66" cy="589.76" r="2.7" fill="#132B43"/>
<circle cx="83.93" cy="591.11" r="2.7" fill="#132B43"/>
<circle cx="91.79" cy="590.82" r="2.7" fill="#132B43"/>
<circle cx="88.06" cy="591.99" r="2.7" fill="#132B43"/>
<circle cx="86.13" cy="593.21" r="2.7" fill="#132B43"/>
<circle cx="80.1" cy="596.29" r="2.7" fill="#132B43"/>
<circle cx="79.94" cy="596.29" r="2.7" fill="#132B43"/>
<circle cx="83.85" cy="591.45" r="2.7" fill="#132B43"/>
<circle cx="86.21" cy="593.26" r="2.7" fill="#132B43"/>
<circle cx="88.09" cy="592.04" r="2.7" fill="#132B43"/>
<circle cx="91.84" cy="591.45" r="2.7" fill="#132B43"/>
<circle cx="94.65" cy="595.98" r="2.7" fill="#132B43"/>
<circle cx="91.06" cy="597.64" r="2.7" fill="#132B43"/>
<circle cx="92.62" cy="597.2" r="2.7" fill="#132B43"/>
<circle cx="92.94" cy="598.39" r="2.7" fill="#132B43"/>
<circle cx="94.63" cy="595.85" r="2.7" fill="#132B43"/>
<circle cx="92.43" cy="596.91" r="2.7" fill="#132B43"/>
<circle cx="90.79" cy="597.61" r="2.7" fill="#132B43"/>
<circle cx="92.99" cy="598.23" r="2.7" fill="#132B43"/>
<circle cx="79.46" cy="601.13" r="2.7" fill="#132B43"/>
<circle cx="81.2" cy="602.04" r="2.7" fill="#132B43"/>
<circle cx="79.16" cy="604.76" r="2.7" fill="#132B43"/>
<circle cx="80.72" cy="603.54" r="2.7" fill="#132B43"/>
<circle cx="79.57" cy="601.16" r="2.7" fill="#132B43"/>
<circle cx="86.4" cy="600.36" r="2.7" fill="#132B43"/>
<circle cx="89.43" cy="600.62" r="2.7" fill="#132B43"/>
<circle cx="93.26" cy="600.8" r="2.7" fill="#132B43"/>
<circle cx="86.67" cy="600.2" r="2.7" fill="#132B43"/>
<circle cx="89.32" cy="600.2" r="2.7" fill="#132B43"/>
<circle cx="85.11" cy="601.73" r="2.7" fill="#132B43"/>
<circle cx="86.99" cy="602.33" r="2.7" fill="#132B43"/>
<circle cx="88.87" cy="602.48" r="2.7" fill="#132B43"/>
<circle cx="93.39" cy="600.51" r="2.7" fill="#132B43"/>
<circle cx="92.94" cy="602.17" r="2.7" fill="#132B43"/>
<circle cx="84.47" cy="605.05" r="2.7" fill="#132B43"/>
<circle cx="87.28" cy="604.76" r="2.7" fill="#132B43"/>
<circle cx="88.87" cy="604.45" r="2.7" fill="#132B43"/>
<circle cx="92.3" cy="604.76" r="2.7" fill="#132B43"/>
<circle cx="82.3" cy="606.26" r="2.7" fill="#132B43"/>
<circle cx="82.92" cy="607.79" r="2.7" fill="#132B43"/>
<circle cx="86.67" cy="605.95" r="2.7" fill="#132B43"/>
<circle cx="88.54" cy="606.58" r="2.7" fill="#132B43"/>
<circle cx="91.36" cy="606.58" r="2.7" fill="#132B43"/>
<circle cx="93.56" cy="606.58" r="2.7" fill="#132B43"/>
<circle cx="94.49" cy="605.67" r="2.7" fill="#132B43"/>
<circle cx="85.57" cy="608.98" r="2.7" fill="#132B43"/>
<circle cx="89.19" cy="608.39" r="2.7" fill="#132B43"/>
<circle cx="79.16" cy="609.3" r="2.7" fill="#132B43"/>
<circle cx="93.23" cy="610.2" r="2.7" fill="#132B43"/>
<circle cx="94.17" cy="610.51" r="2.7" fill="#132B43"/>
<circle cx="89.8" cy="611.11" r="2.7" fill="#132B43"/>
<circle cx="85.73" cy="610.8" r="2.7" fill="#132B43"/>
<circle cx="82.92" cy="608.28" r="2.7" fill="#132B43"/>
<circle cx="85.73" cy="609.04" r="2.7" fill="#132B43"/>
<circle cx="89.19" cy="608.57" r="2.7" fill="#132B43"/>
<circle cx="89.8" cy="608.88" r="2.7" fill="#132B43"/>
<circle cx="78.84" cy="609.79" r="2.7" fill="#132B43"/>
<circle cx="79.16" cy="611.91" r="2.7" fill="#132B43"/>
<circle cx="85.73" cy="611.32" r="2.7" fill="#132B43"/>
<circle cx="86.99" cy="612.22" r="2.7" fill="#132B43"/>
<circle cx="84.79" cy="612.22" r="2.7" fill="#132B43"/>
<circle cx="89.8" cy="611.6" r="2.7" fill="#132B43"/>
<circle cx="91.06" cy="612.66" r="2.7" fill="#132B43"/>
<circle cx="88.87" cy="612.82" r="2.7" fill="#132B43"/>
<circle cx="93.88" cy="610.69" r="2.7" fill="#132B43"/>
<circle cx="93.23" cy="611.91" r="2.7" fill="#132B43"/>
<circle cx="80.72" cy="613.13" r="2.7" fill="#132B43"/>
<circle cx="83.53" cy="613.41" r="2.7" fill="#132B43"/>
<circle cx="80.26" cy="614.32" r="2.7" fill="#132B43"/>
<circle cx="82.3" cy="615.23" r="2.7" fill="#132B43"/>
<circle cx="85.11" cy="614.94" r="2.7" fill="#132B43"/>
<circle cx="86.05" cy="615.54" r="2.7" fill="#132B43"/>
<circle cx="87.28" cy="616.45" r="2.7" fill="#132B43"/>
<circle cx="91.06" cy="616.13" r="2.7" fill="#132B43"/>
<circle cx="92" cy="617.04" r="2.7" fill="#132B43"/>
<circle cx="93.88" cy="616.76" r="2.7" fill="#132B43"/>
<circle cx="81.98" cy="617.97" r="2.7" fill="#132B43"/>
<circle cx="82.92" cy="618.88" r="2.7" fill="#132B43"/>
<circle cx="86.35" cy="618.26" r="2.7" fill="#132B43"/>
<circle cx="89.48" cy="618.26" r="2.7" fill="#132B43"/>
<circle cx="78.84" cy="618.88" r="2.7" fill="#132B43"/>
<circle cx="88.87" cy="619.92" r="2.7" fill="#132B43"/>
<circle cx="85.73" cy="621.29" r="2.7" fill="#132B43"/>
<circle cx="78.84" cy="621.89" r="2.7" fill="#132B43"/>
<circle cx="83.53" cy="622.2" r="2.7" fill="#132B43"/>
<circle cx="84.47" cy="623.26" r="2.7" fill="#132B43"/>
<circle cx="93.88" cy="621.89" r="2.7" fill="#132B43"/>
<circle cx="88.7" cy="626.13" r="2.7" fill="#132B43"/>
<circle cx="89.8" cy="626.89" r="2.7" fill="#132B43"/>
<circle cx="79.27" cy="605.07" r="2.7" fill="#132B43"/>
<circle cx="82.57" cy="606.89" r="2.7" fill="#132B43"/>
<circle cx="85.49" cy="609.37" r="2.7" fill="#132B43"/>
<circle cx="88.78" cy="605.28" r="2.7" fill="#132B43"/>
<circle cx="89.48" cy="603.26" r="2.7" fill="#132B43"/>
<circle cx="93.02" cy="606.89" r="2.7" fill="#132B43"/>
<circle cx="89.48" cy="612.33" r="2.7" fill="#132B43"/>
<circle cx="83.85" cy="612.33" r="2.7" fill="#132B43"/>
<circle cx="79.14" cy="611.89" r="2.7" fill="#132B43"/>
<circle cx="82.19" cy="614.84" r="2.7" fill="#132B43"/>
<circle cx="85.97" cy="615.51" r="2.7" fill="#132B43"/>
<circle cx="90.66" cy="616.42" r="2.7" fill="#132B43"/>
<circle cx="93.47" cy="616.65" r="2.7" fill="#132B43"/>
<circle cx="83.13" cy="617.12" r="2.7" fill="#132B43"/>
<circle cx="87.36" cy="614.17" r="2.7" fill="#132B43"/>
<circle cx="92.08" cy="609.61" r="2.7" fill="#132B43"/>
<circle cx="83.37" cy="605.28" r="2.7" fill="#132B43"/>
<circle cx="129.4" cy="586.6" r="2.7" fill="#56A2DB"/>
<circle cx="142.6" cy="586.6" r="2.7" fill="#56A2DB"/>
<circle cx="160" cy="592.7" r="2.7" fill="#56A2DB"/>
<circle cx="165.1" cy="585.5" r="2.7" fill="#56A2DB"/>
<circle cx="167.2" cy="586.6" r="2.7" fill="#56A2DB"/>
<circle cx="173.9" cy="587.6" r="2.7" fill="#56A2DB"/>
<circle cx="190.3" cy="589.2" r="2.7" fill="#56A2DB"/>
<circle cx="189.6" cy="600.3" r="2.7" fill="#56A2DB"/>
<circle cx="154.9" cy="604.6" r="2.7" fill="#56A2DB"/>
<circle cx="148.8" cy="602.9" r="2.7" fill="#56A2DB"/>
<circle cx="144.3" cy="602.9" r="2.7" fill="#56A2DB"/>
<circle cx="133.4" cy="610.1" r="2.7" fill="#56A2DB"/>
<circle cx="136.5" cy="613.5" r="2.7" fill="#56A2DB"/>
<circle cx="159" cy="594.7" r="2.7" fill="#56A2DB"/>
<circle cx="127" cy="590" r="2.7" fill="#56A2DB"/>
<circle cx="131" cy="596" r="2.7" fill="#56A2DB"/>
<circle cx="128" cy="602" r="2.7" fill="#56A2DB"/>
<circle cx="135" cy="592" r="2.7" fill="#56A2DB"/>
<circle cx="138" cy="598" r="2.7" fill="#56A2DB"/>
<circle cx="126" cy="584" r="2.7" fill="#56A2DB"/>
<circle cx="139.34" cy="600.57" r="2.7" fill="#56A2DB"/>
<circle cx="133.22" cy="598.82" r="2.7" fill="#56A2DB"/>
<circle cx="135.47" cy="585.3" r="2.7" fill="#56A2DB"/>
<circle cx="138.59" cy="602.72" r="2.7" fill="#56A2DB"/>
<circle cx="138.24" cy="603.15" r="2.7" fill="#56A2DB"/>
<circle cx="131.49" cy="593.58" r="2.7" fill="#56A2DB"/>
<circle cx="127.45" cy="599.22" r="2.7" fill="#56A2DB"/>
<circle cx="126.87" cy="585.62" r="2.7" fill="#56A2DB"/>
<circle cx="128.92" cy="587.9" r="2.7" fill="#56A2DB"/>
</g>
<rect x="66.2" y="399.4" width="275.3" height="237.8" fill="none" stroke="#6a6a6a" stroke-width="1.2"/>
<line x1="74.5" y1="637.1" x2="74.5" y2="640.4" stroke="#333" stroke-width="0.9"/>
<text x="74.5" y="651.5" text-anchor="middle" style="font-family:'Liberation Sans',sans-serif;font-size:10.8px" fill="#4D4D4D">0</text>
<line x1="168.65" y1="637.1" x2="168.65" y2="640.4" stroke="#333" stroke-width="0.9"/>
<text x="168.65" y="651.5" text-anchor="middle" style="font-family:'Liberation Sans',sans-serif;font-size:10.8px" fill="#4D4D4D">10</text>
<line x1="262.8" y1="637.1" x2="262.8" y2="640.4" stroke="#333" stroke-width="0.9"/>
<text x="262.8" y="651.5" text-anchor="middle" style="font-family:'Liberation Sans',sans-serif;font-size:10.8px" fill="#4D4D4D">20</text>
<line x1="62.9" y1="636.6" x2="66.2" y2="636.6" stroke="#333" stroke-width="0.9"/>
<text x="60.2" y="640.6" text-anchor="end" style="font-family:'Liberation Sans',sans-serif;font-size:11px" fill="#4D4D4D">0</text>
<line x1="62.9" y1="586.55" x2="66.2" y2="586.55" stroke="#333" stroke-width="0.9"/>
<text x="60.2" y="590.55" text-anchor="end" style="font-family:'Liberation Sans',sans-serif;font-size:11px" fill="#4D4D4D">5</text>
<line x1="62.9" y1="536.5" x2="66.2" y2="536.5" stroke="#333" stroke-width="0.9"/>
<text x="60.2" y="540.5" text-anchor="end" style="font-family:'Liberation Sans',sans-serif;font-size:11px" fill="#4D4D4D">10</text>
<line x1="62.9" y1="486.45" x2="66.2" y2="486.45" stroke="#333" stroke-width="0.9"/>
<text x="60.2" y="490.45" text-anchor="end" style="font-family:'Liberation Sans',sans-serif;font-size:11px" fill="#4D4D4D">15</text>
<line x1="62.9" y1="436.4" x2="66.2" y2="436.4" stroke="#333" stroke-width="0.9"/>
<text x="60.2" y="440.4" text-anchor="end" style="font-family:'Liberation Sans',sans-serif;font-size:11px" fill="#4D4D4D">20</text>
</svg>
</body></html>
